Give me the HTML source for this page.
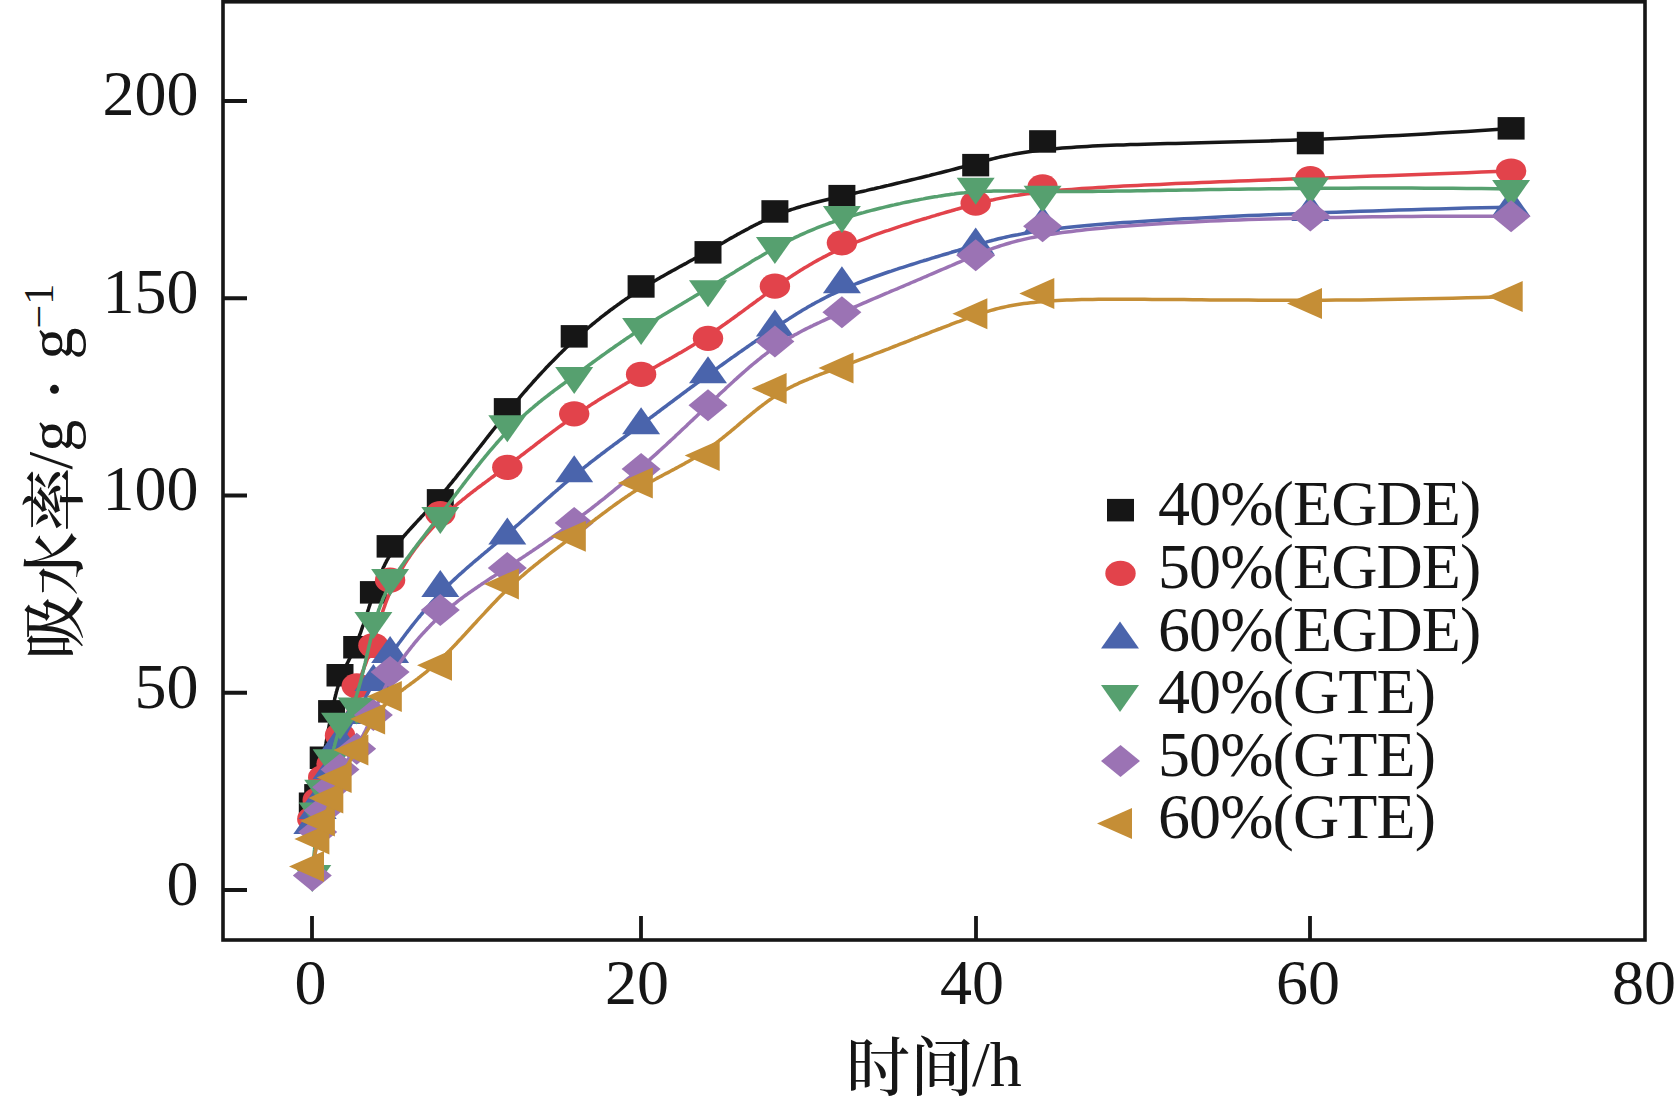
<!DOCTYPE html>
<html><head><meta charset="utf-8"><style>
html,body{margin:0;padding:0;background:#fff;}
svg{display:block;}
.t{font-family:"Liberation Serif","Noto Serif CJK SC",serif;font-size:64px;fill:#161616;}
.c{font-family:"Liberation Serif","Noto Serif CJK SC",serif;font-size:64px;fill:#161616;}
</style></head><body>
<svg width="1675" height="1106" viewBox="0 0 1675 1106">
<rect width="1675" height="1106" fill="#fff"/>
<g stroke="#161616" stroke-width="3.8" fill="none">
<rect x="223" y="1.8" width="1422" height="938.2" stroke-width="3.6"/>
<path d="M223,890H247M223,692.75H247M223,495.5H247M223,298.25H247M223,101H247"/>
<path d="M312,940V916M641,940V916M976,940V916M1310,940V916"/>
</g>
<g class="t" text-anchor="end">
<text x="198.5" y="904.5">0</text>
<text x="198.5" y="707.5">50</text>
<text x="198.5" y="509.8">100</text>
<text x="198.5" y="312.5">150</text>
<text x="198.5" y="115">200</text>
</g>
<g class="t" text-anchor="middle">
<text x="310.5" y="1003.5">0</text>
<text x="637" y="1003.5">20</text>
<text x="972" y="1003.5">40</text>
<text x="1308" y="1003.5">60</text>
<text x="1644" y="1003.5">80</text>
</g>
<text class="c"><tspan x="846" y="1090" font-weight="500">时间</tspan><tspan x="972" y="1086">/h</tspan></text>
<g transform="translate(71.5,653) rotate(-90)">
<text class="c"><tspan x="-6.5" y="5.5" font-weight="500">吸水率</tspan><tspan x="183.5" y="0">/g</tspan><tspan x="251" y="8" font-size="76">·</tspan><tspan x="293.6" y="0">g</tspan><tspan x="324.6" y="-19" font-size="42">−1</tspan></text>
</g>
<path d="M312.3,803.8 L312.7,803.2 L313.1,802.5 L313.5,801.7 L313.8,801.0 L314.2,800.2 L314.6,799.4 L314.9,798.5 L315.2,797.6 L315.6,796.7 L315.9,795.7 L316.2,794.8 L316.5,793.8 L316.8,792.7 L317.1,791.7 L317.4,790.6 L317.7,789.5 L318.0,788.4 L318.2,787.2 L318.5,786.1 L318.8,784.9 L319.0,783.7 L319.3,782.5 L319.5,781.3 L319.8,780.1 L320.0,778.8 L320.2,777.6 L320.5,776.3 L320.7,775.0 L320.9,773.7 L321.1,772.4 L321.3,771.1 L321.6,769.9 L321.8,768.6 L322.0,767.2 L322.2,765.9 L322.4,764.6 L322.6,763.3 L322.8,762.0 L323.0,760.8 L323.2,759.5 L323.5,758.2 L323.7,756.9 L323.9,755.6 L324.1,754.4 L324.3,753.1 L324.5,751.9 L324.7,750.6 L324.9,749.4 L325.1,748.2 L325.3,746.9 L325.5,745.7 L325.7,744.5 L326.0,743.3 L326.2,742.1 L326.4,740.9 L326.6,739.7 L326.8,738.5 L327.0,737.4 L327.2,736.2 L327.4,735.0 L327.6,733.9 L327.8,732.7 L328.0,731.6 L328.2,730.4 L328.5,729.3 L328.7,728.2 L328.9,727.1 L329.1,726.0 L329.3,724.8 L329.5,723.8 L329.7,722.7 L329.9,721.6 L330.1,720.5 L330.3,719.4 L330.5,718.4 L330.8,717.3 L331.0,716.2 L331.2,715.2 L331.4,714.2 L331.6,713.1 L331.8,712.1 L332.0,711.1 L332.2,710.1 L332.4,709.0 L332.6,708.0 L332.9,707.0 L333.1,706.1 L333.3,705.1 L333.5,704.1 L333.7,703.1 L333.9,702.2 L334.1,701.2 L334.4,700.2 L334.6,699.3 L334.8,698.4 L335.0,697.4 L335.3,696.5 L335.5,695.6 L335.7,694.6 L336.0,693.7 L336.2,692.8 L336.4,691.9 L336.7,691.0 L336.9,690.1 L337.2,689.3 L337.4,688.4 L337.7,687.5 L337.9,686.6 L338.2,685.8 L338.5,684.9 L338.7,684.1 L339.0,683.2 L339.3,682.4 L339.6,681.5 L339.8,680.7 L340.1,679.9 L340.4,679.1 L340.7,678.3 L341.0,677.5 L341.4,676.6 L341.7,675.9 L342.0,675.1 L342.3,674.3 L342.6,673.5 L343.0,672.7 L343.3,671.9 L343.7,671.1 L344.0,670.4 L344.4,669.6 L344.7,668.8 L345.1,668.0 L345.5,667.2 L345.8,666.5 L346.2,665.7 L346.6,664.9 L347.0,664.1 L347.3,663.3 L347.7,662.5 L348.1,661.7 L348.5,660.9 L348.9,660.1 L349.3,659.3 L349.7,658.5 L350.1,657.6 L350.5,656.8 L350.9,655.9 L351.3,655.1 L351.7,654.2 L352.1,653.3 L352.5,652.4 L352.9,651.5 L353.4,650.6 L353.8,649.7 L354.2,648.8 L354.6,647.8 L355.0,646.8 L355.4,645.9 L355.9,644.9 L356.3,643.8 L356.7,642.8 L357.1,641.8 L357.5,640.7 L357.9,639.6 L358.4,638.5 L358.8,637.4 L359.2,636.3 L359.6,635.2 L360.0,634.0 L360.5,632.9 L360.9,631.7 L361.3,630.5 L361.7,629.3 L362.1,628.1 L362.5,626.9 L363.0,625.7 L363.4,624.5 L363.8,623.2 L364.2,622.0 L364.6,620.7 L365.1,619.5 L365.5,618.2 L365.9,616.9 L366.3,615.7 L366.7,614.4 L367.1,613.1 L367.6,611.8 L368.0,610.5 L368.4,609.3 L368.8,608.0 L369.2,606.7 L369.7,605.4 L370.1,604.1 L370.5,602.8 L370.9,601.5 L371.3,600.2 L371.7,599.0 L372.2,597.7 L372.6,596.4 L373.0,595.1 L373.4,593.9 L373.8,592.6 L374.3,591.4 L374.7,590.1 L375.1,588.9 L375.5,587.6 L375.9,586.4 L376.4,585.2 L376.8,584.0 L377.2,582.7 L377.7,581.5 L378.1,580.3 L378.6,579.1 L379.0,577.9 L379.5,576.7 L380.0,575.5 L380.5,574.3 L381.0,573.1 L381.5,571.9 L382.0,570.8 L382.5,569.6 L383.0,568.4 L383.5,567.2 L384.1,566.1 L384.7,564.9 L385.2,563.7 L385.8,562.6 L386.4,561.4 L387.0,560.2 L387.7,559.1 L388.3,557.9 L389.0,556.8 L389.7,555.6 L390.4,554.4 L391.1,553.3 L391.8,552.1 L392.5,551.0 L393.3,549.8 L394.1,548.7 L394.9,547.5 L395.7,546.4 L396.6,545.2 L397.4,544.1 L398.3,542.9 L399.2,541.8 L400.2,540.6 L401.1,539.4 L402.1,538.3 L403.1,537.1 L404.1,535.9 L405.1,534.8 L406.1,533.6 L407.2,532.4 L408.3,531.2 L409.4,529.9 L410.5,528.7 L411.6,527.5 L412.8,526.2 L413.9,525.0 L415.1,523.7 L416.3,522.4 L417.5,521.1 L418.7,519.8 L420.0,518.5 L421.2,517.1 L422.5,515.8 L423.8,514.4 L425.1,513.0 L426.4,511.6 L427.7,510.1 L429.1,508.7 L430.4,507.2 L431.8,505.7 L433.2,504.2 L434.5,502.6 L435.9,501.0 L437.4,499.5 L438.8,497.8 L440.2,496.2 L441.7,494.5 L443.1,492.8 L444.6,491.1 L446.1,489.3 L447.6,487.6 L449.1,485.7 L450.6,483.9 L452.1,482.1 L453.6,480.2 L455.2,478.3 L456.7,476.4 L458.2,474.4 L459.8,472.5 L461.4,470.5 L462.9,468.5 L464.5,466.5 L466.1,464.5 L467.7,462.5 L469.3,460.4 L470.9,458.4 L472.5,456.3 L474.1,454.2 L475.8,452.2 L477.4,450.1 L479.0,448.0 L480.7,445.9 L482.3,443.8 L484.0,441.7 L485.6,439.5 L487.3,437.4 L488.9,435.3 L490.6,433.2 L492.2,431.1 L493.9,429.0 L495.6,426.9 L497.2,424.8 L498.9,422.7 L500.6,420.6 L502.2,418.5 L503.9,416.4 L505.6,414.4 L507.3,412.3 L508.9,410.3 L510.6,408.2 L512.3,406.2 L514.0,404.2 L515.6,402.2 L517.3,400.2 L519.0,398.3 L520.6,396.3 L522.3,394.3 L524.0,392.4 L525.7,390.5 L527.3,388.6 L529.0,386.7 L530.7,384.8 L532.4,382.9 L534.0,381.0 L535.7,379.2 L537.4,377.3 L539.0,375.5 L540.7,373.7 L542.4,371.9 L544.1,370.1 L545.7,368.3 L547.4,366.6 L549.1,364.8 L550.8,363.1 L552.4,361.4 L554.1,359.7 L555.8,358.0 L557.5,356.3 L559.1,354.6 L560.8,353.0 L562.5,351.3 L564.1,349.7 L565.8,348.1 L567.5,346.5 L569.2,344.9 L570.8,343.3 L572.5,341.8 L574.2,340.2 L575.9,338.7 L577.5,337.2 L579.2,335.7 L580.9,334.2 L582.5,332.7 L584.2,331.3 L585.9,329.8 L587.6,328.4 L589.2,327.0 L590.9,325.6 L592.6,324.2 L594.3,322.8 L595.9,321.5 L597.6,320.1 L599.3,318.8 L600.9,317.4 L602.6,316.1 L604.3,314.8 L606.0,313.5 L607.6,312.3 L609.3,311.0 L611.0,309.7 L612.7,308.5 L614.3,307.3 L616.0,306.1 L617.7,304.8 L619.4,303.7 L621.0,302.5 L622.7,301.3 L624.4,300.1 L626.0,299.0 L627.7,297.9 L629.4,296.7 L631.1,295.6 L632.7,294.5 L634.4,293.4 L636.1,292.3 L637.8,291.2 L639.4,290.2 L641.1,289.1 L642.8,288.1 L644.4,287.0 L646.1,286.0 L647.8,285.0 L649.5,284.0 L651.1,283.0 L652.8,282.0 L654.5,281.0 L656.2,280.0 L657.8,279.0 L659.5,278.1 L661.2,277.1 L662.8,276.2 L664.5,275.2 L666.2,274.3 L667.9,273.3 L669.5,272.4 L671.2,271.4 L672.9,270.5 L674.6,269.6 L676.2,268.7 L677.9,267.7 L679.6,266.8 L681.3,265.9 L682.9,265.0 L684.6,264.1 L686.3,263.2 L687.9,262.3 L689.6,261.3 L691.3,260.4 L693.0,259.5 L694.6,258.6 L696.3,257.7 L698.0,256.8 L699.7,255.8 L701.3,254.9 L703.0,254.0 L704.7,253.1 L706.3,252.1 L708.0,251.2 L709.7,250.3 L711.4,249.3 L713.0,248.4 L714.7,247.4 L716.4,246.5 L718.1,245.5 L719.7,244.6 L721.4,243.6 L723.1,242.7 L724.8,241.7 L726.4,240.7 L728.1,239.8 L729.8,238.8 L731.4,237.9 L733.1,237.0 L734.8,236.0 L736.5,235.1 L738.1,234.1 L739.8,233.2 L741.5,232.3 L743.2,231.4 L744.8,230.5 L746.5,229.6 L748.2,228.7 L749.8,227.8 L751.5,226.9 L753.2,226.0 L754.9,225.2 L756.5,224.3 L758.2,223.5 L759.9,222.6 L761.6,221.8 L763.2,221.0 L764.9,220.2 L766.6,219.4 L768.2,218.7 L769.9,217.9 L771.6,217.2 L773.3,216.5 L774.9,215.8 L776.6,215.1 L778.3,214.4 L780.0,213.7 L781.6,213.1 L783.3,212.4 L785.0,211.8 L786.7,211.2 L788.4,210.6 L790.1,210.0 L791.8,209.4 L793.6,208.9 L795.3,208.3 L797.1,207.7 L798.8,207.2 L800.6,206.7 L802.4,206.1 L804.2,205.6 L806.1,205.1 L807.9,204.6 L809.8,204.1 L811.7,203.5 L813.6,203.0 L815.5,202.5 L817.5,202.0 L819.5,201.5 L821.5,201.0 L823.5,200.5 L825.6,200.0 L827.7,199.5 L829.8,199.0 L832.0,198.5 L834.2,198.0 L836.4,197.4 L838.7,196.9 L841.0,196.4 L843.3,195.8 L845.7,195.3 L848.1,194.7 L850.5,194.2 L853.0,193.6 L855.5,193.0 L858.1,192.4 L860.7,191.8 L863.4,191.2 L866.0,190.6 L868.7,189.9 L871.5,189.3 L874.2,188.7 L877.0,188.0 L879.9,187.4 L882.7,186.7 L885.5,186.0 L888.4,185.4 L891.3,184.7 L894.2,184.0 L897.1,183.3 L900.0,182.6 L902.9,181.9 L905.9,181.2 L908.8,180.5 L911.7,179.8 L914.6,179.1 L917.6,178.4 L920.5,177.7 L923.4,177.0 L926.3,176.3 L929.2,175.6 L932.0,174.8 L934.9,174.1 L937.7,173.4 L940.5,172.7 L943.3,172.0 L946.1,171.3 L948.8,170.6 L951.5,169.9 L954.2,169.2 L956.8,168.5 L959.4,167.8 L962.0,167.1 L964.5,166.4 L967.0,165.7 L969.5,165.1 L971.9,164.4 L974.3,163.7 L976.7,163.1 L979.1,162.4 L981.4,161.8 L983.8,161.1 L986.2,160.5 L988.6,159.9 L991.0,159.2 L993.5,158.6 L995.9,158.0 L998.5,157.4 L1001.0,156.8 L1003.6,156.3 L1006.3,155.7 L1009.0,155.1 L1011.8,154.6 L1014.7,154.0 L1017.7,153.5 L1020.8,153.0 L1023.9,152.5 L1027.2,152.0 L1030.6,151.5 L1034.0,151.0 L1037.6,150.6 L1041.4,150.1 L1045.2,149.7 L1049.2,149.3 L1053.4,148.9 L1057.7,148.5 L1062.2,148.1 L1066.8,147.7 L1071.6,147.4 L1076.6,147.0 L1081.7,146.7 L1087.1,146.4 L1092.6,146.1 L1098.4,145.8 L1104.3,145.6 L1110.5,145.3 L1116.9,145.1 L1123.5,144.9 L1130.3,144.6 L1137.3,144.4 L1144.6,144.2 L1152.0,144.0 L1159.7,143.8 L1167.6,143.6 L1175.7,143.4 L1184.0,143.2 L1192.6,143.0 L1201.3,142.8 L1210.3,142.6 L1219.6,142.3 L1229.0,142.1 L1238.7,141.8 L1248.6,141.5 L1258.7,141.2 L1269.1,140.9 L1279.7,140.6 L1290.5,140.2 L1301.6,139.8 L1312.8,139.4 L1324.4,138.9 L1336.1,138.4 L1348.1,137.9 L1360.4,137.3 L1372.9,136.7 L1385.6,136.1 L1398.5,135.4 L1411.7,134.7 L1425.2,133.9 L1438.9,133.1 L1452.8,132.3 L1467.0,131.4 L1481.4,130.4 L1496.1,129.4 L1511.1,128.3" fill="none" stroke="#161616" stroke-width="3.5" stroke-linejoin="round"/>
<rect x="298.8" y="792.5" width="27" height="22.5" fill="#161616"/>
<rect x="304.2" y="784.1" width="27" height="22.5" fill="#161616"/>
<rect x="309.7" y="746.5" width="27" height="22.5" fill="#161616"/>
<rect x="318.1" y="700.1" width="27" height="22.5" fill="#161616"/>
<rect x="326.5" y="664.0" width="27" height="22.5" fill="#161616"/>
<rect x="343.2" y="636.0" width="27" height="22.5" fill="#161616"/>
<rect x="359.9" y="581.1" width="27" height="22.5" fill="#161616"/>
<rect x="376.6" y="535.1" width="27" height="22.5" fill="#161616"/>
<rect x="426.8" y="489.1" width="27" height="22.5" fill="#161616"/>
<rect x="493.8" y="398.1" width="27" height="22.5" fill="#161616"/>
<rect x="560.7" y="325.1" width="27" height="22.5" fill="#161616"/>
<rect x="627.6" y="275.2" width="27" height="22.5" fill="#161616"/>
<rect x="694.5" y="241.1" width="27" height="22.5" fill="#161616"/>
<rect x="761.4" y="200.2" width="27" height="22.5" fill="#161616"/>
<rect x="828.4" y="184.9" width="27" height="22.5" fill="#161616"/>
<rect x="962.2" y="153.9" width="27" height="22.5" fill="#161616"/>
<rect x="1029.1" y="130.2" width="27" height="22.5" fill="#161616"/>
<rect x="1296.8" y="131.8" width="27" height="22.5" fill="#161616"/>
<rect x="1497.6" y="117.1" width="27" height="22.5" fill="#161616"/>
<path d="M312.3,819.0 L312.7,817.6 L313.1,816.2 L313.5,814.9 L313.8,813.5 L314.2,812.2 L314.6,811.0 L314.9,809.7 L315.2,808.5 L315.6,807.3 L315.9,806.1 L316.2,805.0 L316.5,803.9 L316.8,802.8 L317.1,801.7 L317.4,800.7 L317.7,799.6 L318.0,798.6 L318.2,797.7 L318.5,796.7 L318.8,795.8 L319.0,794.9 L319.3,794.0 L319.5,793.1 L319.8,792.2 L320.0,791.4 L320.2,790.6 L320.5,789.8 L320.7,789.0 L320.9,788.2 L321.1,787.5 L321.3,786.8 L321.6,786.0 L321.8,785.3 L322.0,784.7 L322.2,784.0 L322.4,783.3 L322.6,782.7 L322.8,782.1 L323.0,781.5 L323.2,780.9 L323.5,780.3 L323.7,779.7 L323.9,779.2 L324.1,778.6 L324.3,778.1 L324.5,777.5 L324.7,777.0 L324.9,776.5 L325.1,776.0 L325.3,775.5 L325.5,775.0 L325.7,774.5 L326.0,774.1 L326.2,773.6 L326.4,773.1 L326.6,772.7 L326.8,772.2 L327.0,771.8 L327.2,771.3 L327.4,770.9 L327.6,770.4 L327.8,770.0 L328.0,769.5 L328.2,769.1 L328.5,768.6 L328.7,768.2 L328.9,767.7 L329.1,767.3 L329.3,766.8 L329.5,766.4 L329.7,765.9 L329.9,765.4 L330.1,765.0 L330.3,764.5 L330.5,764.0 L330.8,763.5 L331.0,763.0 L331.2,762.5 L331.4,762.0 L331.6,761.5 L331.8,761.0 L332.0,760.4 L332.2,759.9 L332.4,759.3 L332.6,758.8 L332.9,758.2 L333.1,757.6 L333.3,757.0 L333.5,756.4 L333.7,755.8 L333.9,755.1 L334.1,754.5 L334.4,753.8 L334.6,753.2 L334.8,752.5 L335.0,751.8 L335.3,751.1 L335.5,750.4 L335.7,749.7 L336.0,749.0 L336.2,748.3 L336.4,747.5 L336.7,746.7 L336.9,746.0 L337.2,745.2 L337.4,744.4 L337.7,743.6 L337.9,742.8 L338.2,741.9 L338.5,741.1 L338.7,740.2 L339.0,739.4 L339.3,738.5 L339.6,737.6 L339.8,736.7 L340.1,735.8 L340.4,734.8 L340.7,733.9 L341.0,732.9 L341.4,732.0 L341.7,731.0 L342.0,730.0 L342.3,729.0 L342.6,728.0 L343.0,726.9 L343.3,725.9 L343.7,724.8 L344.0,723.8 L344.4,722.7 L344.7,721.6 L345.1,720.5 L345.5,719.4 L345.8,718.3 L346.2,717.2 L346.6,716.1 L347.0,715.0 L347.3,713.8 L347.7,712.7 L348.1,711.5 L348.5,710.4 L348.9,709.3 L349.3,708.1 L349.7,706.9 L350.1,705.8 L350.5,704.6 L350.9,703.5 L351.3,702.3 L351.7,701.2 L352.1,700.0 L352.5,698.8 L352.9,697.7 L353.4,696.5 L353.8,695.4 L354.2,694.2 L354.6,693.1 L355.0,691.9 L355.4,690.8 L355.9,689.6 L356.3,688.5 L356.7,687.4 L357.1,686.2 L357.5,685.1 L357.9,684.0 L358.4,682.9 L358.8,681.8 L359.2,680.7 L359.6,679.6 L360.0,678.5 L360.5,677.4 L360.9,676.3 L361.3,675.2 L361.7,674.1 L362.1,673.0 L362.5,671.9 L363.0,670.8 L363.4,669.7 L363.8,668.6 L364.2,667.5 L364.6,666.4 L365.1,665.3 L365.5,664.2 L365.9,663.1 L366.3,661.9 L366.7,660.8 L367.1,659.7 L367.6,658.5 L368.0,657.4 L368.4,656.2 L368.8,655.0 L369.2,653.8 L369.7,652.6 L370.1,651.4 L370.5,650.2 L370.9,649.0 L371.3,647.7 L371.7,646.5 L372.2,645.2 L372.6,643.9 L373.0,642.6 L373.4,641.3 L373.8,640.0 L374.3,638.6 L374.7,637.3 L375.1,635.9 L375.5,634.5 L375.9,633.1 L376.4,631.7 L376.8,630.2 L377.2,628.8 L377.7,627.4 L378.1,625.9 L378.6,624.4 L379.0,622.9 L379.5,621.4 L380.0,619.9 L380.5,618.4 L381.0,616.9 L381.5,615.3 L382.0,613.8 L382.5,612.2 L383.0,610.6 L383.5,609.1 L384.1,607.5 L384.7,605.9 L385.2,604.3 L385.8,602.7 L386.4,601.1 L387.0,599.5 L387.7,597.9 L388.3,596.2 L389.0,594.6 L389.7,593.0 L390.4,591.4 L391.1,589.7 L391.8,588.1 L392.5,586.4 L393.3,584.8 L394.1,583.1 L394.9,581.5 L395.7,579.8 L396.6,578.2 L397.4,576.6 L398.3,574.9 L399.2,573.3 L400.2,571.6 L401.1,570.0 L402.1,568.3 L403.1,566.7 L404.1,565.0 L405.1,563.4 L406.1,561.8 L407.2,560.1 L408.3,558.5 L409.4,556.9 L410.5,555.2 L411.6,553.6 L412.8,552.0 L413.9,550.4 L415.1,548.8 L416.3,547.2 L417.5,545.6 L418.7,544.0 L420.0,542.4 L421.2,540.9 L422.5,539.3 L423.8,537.8 L425.1,536.2 L426.4,534.7 L427.7,533.1 L429.1,531.6 L430.4,530.1 L431.8,528.6 L433.2,527.1 L434.5,525.6 L435.9,524.1 L437.4,522.7 L438.8,521.2 L440.2,519.8 L441.7,518.4 L443.1,516.9 L444.6,515.5 L446.1,514.2 L447.6,512.8 L449.1,511.4 L450.6,510.1 L452.1,508.7 L453.6,507.4 L455.2,506.0 L456.7,504.7 L458.2,503.4 L459.8,502.1 L461.4,500.8 L462.9,499.5 L464.5,498.3 L466.1,497.0 L467.7,495.7 L469.3,494.5 L470.9,493.2 L472.5,492.0 L474.1,490.7 L475.8,489.5 L477.4,488.2 L479.0,487.0 L480.7,485.8 L482.3,484.5 L484.0,483.3 L485.6,482.1 L487.3,480.9 L488.9,479.6 L490.6,478.4 L492.2,477.2 L493.9,476.0 L495.6,474.7 L497.2,473.5 L498.9,472.3 L500.6,471.1 L502.2,469.8 L503.9,468.6 L505.6,467.3 L507.3,466.1 L508.9,464.9 L510.6,463.6 L512.3,462.3 L514.0,461.1 L515.6,459.8 L517.3,458.5 L519.0,457.3 L520.6,456.0 L522.3,454.7 L524.0,453.5 L525.7,452.2 L527.3,450.9 L529.0,449.6 L530.7,448.3 L532.4,447.1 L534.0,445.8 L535.7,444.5 L537.4,443.2 L539.0,442.0 L540.7,440.7 L542.4,439.4 L544.1,438.2 L545.7,436.9 L547.4,435.6 L549.1,434.4 L550.8,433.1 L552.4,431.9 L554.1,430.6 L555.8,429.4 L557.5,428.1 L559.1,426.9 L560.8,425.7 L562.5,424.5 L564.1,423.3 L565.8,422.0 L567.5,420.8 L569.2,419.7 L570.8,418.5 L572.5,417.3 L574.2,416.1 L575.9,415.0 L577.5,413.8 L579.2,412.7 L580.9,411.6 L582.5,410.4 L584.2,409.3 L585.9,408.2 L587.6,407.1 L589.2,406.0 L590.9,404.9 L592.6,403.8 L594.3,402.8 L595.9,401.7 L597.6,400.6 L599.3,399.6 L600.9,398.5 L602.6,397.5 L604.3,396.5 L606.0,395.4 L607.6,394.4 L609.3,393.4 L611.0,392.4 L612.7,391.4 L614.3,390.4 L616.0,389.4 L617.7,388.4 L619.4,387.4 L621.0,386.4 L622.7,385.4 L624.4,384.5 L626.0,383.5 L627.7,382.5 L629.4,381.6 L631.1,380.6 L632.7,379.6 L634.4,378.7 L636.1,377.7 L637.8,376.8 L639.4,375.8 L641.1,374.9 L642.8,373.9 L644.4,373.0 L646.1,372.1 L647.8,371.1 L649.5,370.2 L651.1,369.2 L652.8,368.3 L654.5,367.4 L656.2,366.4 L657.8,365.5 L659.5,364.6 L661.2,363.6 L662.8,362.7 L664.5,361.7 L666.2,360.8 L667.9,359.9 L669.5,358.9 L671.2,358.0 L672.9,357.0 L674.6,356.0 L676.2,355.1 L677.9,354.1 L679.6,353.1 L681.3,352.2 L682.9,351.2 L684.6,350.2 L686.3,349.2 L687.9,348.2 L689.6,347.2 L691.3,346.2 L693.0,345.2 L694.6,344.1 L696.3,343.1 L698.0,342.1 L699.7,341.0 L701.3,339.9 L703.0,338.9 L704.7,337.8 L706.3,336.7 L708.0,335.6 L709.7,334.5 L711.4,333.4 L713.0,332.3 L714.7,331.1 L716.4,330.0 L718.1,328.8 L719.7,327.7 L721.4,326.5 L723.1,325.3 L724.8,324.2 L726.4,323.0 L728.1,321.8 L729.8,320.6 L731.4,319.4 L733.1,318.2 L734.8,317.0 L736.5,315.8 L738.1,314.5 L739.8,313.3 L741.5,312.1 L743.2,310.9 L744.8,309.6 L746.5,308.4 L748.2,307.2 L749.8,305.9 L751.5,304.7 L753.2,303.5 L754.9,302.3 L756.5,301.0 L758.2,299.8 L759.9,298.6 L761.6,297.3 L763.2,296.1 L764.9,294.9 L766.6,293.7 L768.2,292.5 L769.9,291.3 L771.6,290.0 L773.3,288.8 L774.9,287.6 L776.6,286.5 L778.3,285.3 L780.0,284.1 L781.6,282.9 L783.3,281.7 L785.0,280.6 L786.7,279.4 L788.4,278.3 L790.1,277.1 L791.8,276.0 L793.6,274.8 L795.3,273.7 L797.1,272.6 L798.8,271.4 L800.6,270.3 L802.4,269.2 L804.2,268.1 L806.1,267.0 L807.9,265.9 L809.8,264.8 L811.7,263.7 L813.6,262.6 L815.5,261.5 L817.5,260.4 L819.5,259.3 L821.5,258.2 L823.5,257.1 L825.6,256.1 L827.7,255.0 L829.8,253.9 L832.0,252.9 L834.2,251.8 L836.4,250.8 L838.7,249.7 L841.0,248.7 L843.3,247.6 L845.7,246.6 L848.1,245.5 L850.5,244.5 L853.0,243.4 L855.5,242.4 L858.1,241.4 L860.7,240.3 L863.4,239.3 L866.0,238.3 L868.7,237.3 L871.5,236.2 L874.2,235.2 L877.0,234.2 L879.9,233.2 L882.7,232.2 L885.5,231.2 L888.4,230.3 L891.3,229.3 L894.2,228.3 L897.1,227.3 L900.0,226.4 L902.9,225.4 L905.9,224.5 L908.8,223.6 L911.7,222.6 L914.6,221.7 L917.6,220.8 L920.5,219.9 L923.4,219.0 L926.3,218.2 L929.2,217.3 L932.0,216.4 L934.9,215.6 L937.7,214.7 L940.5,213.9 L943.3,213.1 L946.1,212.3 L948.8,211.5 L951.5,210.8 L954.2,210.0 L956.8,209.2 L959.4,208.5 L962.0,207.8 L964.5,207.1 L967.0,206.4 L969.5,205.7 L971.9,205.1 L974.3,204.4 L976.7,203.8 L979.1,203.1 L981.4,202.5 L983.8,201.9 L986.2,201.3 L988.6,200.8 L991.0,200.2 L993.5,199.7 L995.9,199.1 L998.5,198.6 L1001.0,198.1 L1003.6,197.6 L1006.3,197.1 L1009.0,196.6 L1011.8,196.1 L1014.7,195.6 L1017.7,195.2 L1020.8,194.7 L1023.9,194.2 L1027.2,193.8 L1030.6,193.4 L1034.0,192.9 L1037.6,192.5 L1041.4,192.1 L1045.2,191.7 L1049.2,191.3 L1053.4,190.9 L1057.7,190.5 L1062.2,190.1 L1066.8,189.8 L1071.6,189.4 L1076.6,189.0 L1081.7,188.6 L1087.1,188.3 L1092.6,187.9 L1098.4,187.5 L1104.3,187.2 L1110.5,186.8 L1116.9,186.5 L1123.5,186.1 L1130.3,185.8 L1137.3,185.4 L1144.6,185.1 L1152.0,184.7 L1159.7,184.4 L1167.6,184.0 L1175.7,183.6 L1184.0,183.3 L1192.6,182.9 L1201.3,182.6 L1210.3,182.2 L1219.6,181.8 L1229.0,181.5 L1238.7,181.1 L1248.6,180.7 L1258.7,180.3 L1269.1,179.9 L1279.7,179.5 L1290.5,179.1 L1301.6,178.7 L1312.8,178.3 L1324.4,177.9 L1336.1,177.5 L1348.1,177.0 L1360.4,176.6 L1372.9,176.1 L1385.6,175.7 L1398.5,175.2 L1411.7,174.7 L1425.2,174.2 L1438.9,173.7 L1452.8,173.2 L1467.0,172.7 L1481.4,172.1 L1496.1,171.6 L1511.1,171.0" fill="none" stroke="#E2434B" stroke-width="3.5" stroke-linejoin="round"/>
<ellipse cx="312.3" cy="819.0" rx="15.2" ry="12.6" fill="#E2434B"/>
<ellipse cx="317.7" cy="800.0" rx="15.2" ry="12.6" fill="#E2434B"/>
<ellipse cx="323.2" cy="777.5" rx="15.2" ry="12.6" fill="#E2434B"/>
<ellipse cx="331.6" cy="764.0" rx="15.2" ry="12.6" fill="#E2434B"/>
<ellipse cx="340.0" cy="735.5" rx="15.2" ry="12.6" fill="#E2434B"/>
<ellipse cx="356.7" cy="685.8" rx="15.2" ry="12.6" fill="#E2434B"/>
<ellipse cx="373.4" cy="645.5" rx="15.2" ry="12.6" fill="#E2434B"/>
<ellipse cx="390.1" cy="580.0" rx="15.2" ry="12.6" fill="#E2434B"/>
<ellipse cx="440.3" cy="513.6" rx="15.2" ry="12.6" fill="#E2434B"/>
<ellipse cx="507.3" cy="467.3" rx="15.2" ry="12.6" fill="#E2434B"/>
<ellipse cx="574.2" cy="413.8" rx="15.2" ry="12.6" fill="#E2434B"/>
<ellipse cx="641.1" cy="374.3" rx="15.2" ry="12.6" fill="#E2434B"/>
<ellipse cx="708.0" cy="338.3" rx="15.2" ry="12.6" fill="#E2434B"/>
<ellipse cx="774.9" cy="286.2" rx="15.2" ry="12.6" fill="#E2434B"/>
<ellipse cx="841.9" cy="242.8" rx="15.2" ry="12.6" fill="#E2434B"/>
<ellipse cx="975.7" cy="203.2" rx="15.2" ry="12.6" fill="#E2434B"/>
<ellipse cx="1042.6" cy="186.9" rx="15.2" ry="12.6" fill="#E2434B"/>
<ellipse cx="1310.3" cy="178.6" rx="15.2" ry="12.6" fill="#E2434B"/>
<ellipse cx="1511.1" cy="171.0" rx="15.2" ry="12.6" fill="#E2434B"/>
<path d="M312.3,825.0 L312.7,823.9 L313.1,822.8 L313.5,821.7 L313.8,820.7 L314.2,819.7 L314.6,818.7 L314.9,817.8 L315.2,816.8 L315.6,815.9 L315.9,815.0 L316.2,814.2 L316.5,813.3 L316.8,812.5 L317.1,811.7 L317.4,810.9 L317.7,810.1 L318.0,809.3 L318.2,808.6 L318.5,807.9 L318.8,807.1 L319.0,806.4 L319.3,805.7 L319.5,805.1 L319.8,804.4 L320.0,803.7 L320.2,803.1 L320.5,802.4 L320.7,801.8 L320.9,801.2 L321.1,800.6 L321.3,800.0 L321.6,799.3 L321.8,798.7 L322.0,798.1 L322.2,797.5 L322.4,797.0 L322.6,796.4 L322.8,795.8 L323.0,795.2 L323.2,794.6 L323.5,794.0 L323.7,793.4 L323.9,792.8 L324.1,792.2 L324.3,791.6 L324.5,791.0 L324.7,790.4 L324.9,789.8 L325.1,789.2 L325.3,788.6 L325.5,788.0 L325.7,787.3 L326.0,786.7 L326.2,786.1 L326.4,785.5 L326.6,784.9 L326.8,784.3 L327.0,783.6 L327.2,783.0 L327.4,782.4 L327.6,781.8 L327.8,781.1 L328.0,780.5 L328.2,779.9 L328.5,779.2 L328.7,778.6 L328.9,778.0 L329.1,777.3 L329.3,776.7 L329.5,776.0 L329.7,775.4 L329.9,774.7 L330.1,774.1 L330.3,773.4 L330.5,772.8 L330.8,772.1 L331.0,771.5 L331.2,770.8 L331.4,770.2 L331.6,769.5 L331.8,768.8 L332.0,768.2 L332.2,767.5 L332.4,766.8 L332.6,766.2 L332.9,765.5 L333.1,764.8 L333.3,764.1 L333.5,763.5 L333.7,762.8 L333.9,762.1 L334.1,761.4 L334.4,760.8 L334.6,760.1 L334.8,759.4 L335.0,758.7 L335.3,758.0 L335.5,757.3 L335.7,756.6 L336.0,756.0 L336.2,755.3 L336.4,754.6 L336.7,753.9 L336.9,753.2 L337.2,752.5 L337.4,751.8 L337.7,751.1 L337.9,750.4 L338.2,749.8 L338.5,749.1 L338.7,748.4 L339.0,747.7 L339.3,747.0 L339.6,746.3 L339.8,745.6 L340.1,744.9 L340.4,744.2 L340.7,743.5 L341.0,742.9 L341.4,742.2 L341.7,741.5 L342.0,740.8 L342.3,740.1 L342.6,739.4 L343.0,738.7 L343.3,738.0 L343.7,737.4 L344.0,736.7 L344.4,736.0 L344.7,735.3 L345.1,734.6 L345.5,733.9 L345.8,733.2 L346.2,732.6 L346.6,731.9 L347.0,731.2 L347.3,730.5 L347.7,729.8 L348.1,729.1 L348.5,728.4 L348.9,727.7 L349.3,727.0 L349.7,726.3 L350.1,725.6 L350.5,724.9 L350.9,724.2 L351.3,723.5 L351.7,722.8 L352.1,722.0 L352.5,721.3 L352.9,720.6 L353.4,719.9 L353.8,719.2 L354.2,718.4 L354.6,717.7 L355.0,717.0 L355.4,716.2 L355.9,715.5 L356.3,714.7 L356.7,714.0 L357.1,713.2 L357.5,712.5 L357.9,711.7 L358.4,711.0 L358.8,710.2 L359.2,709.4 L359.6,708.7 L360.0,707.9 L360.5,707.1 L360.9,706.3 L361.3,705.6 L361.7,704.8 L362.1,704.0 L362.5,703.2 L363.0,702.4 L363.4,701.6 L363.8,700.8 L364.2,700.1 L364.6,699.3 L365.1,698.5 L365.5,697.7 L365.9,696.9 L366.3,696.1 L366.7,695.3 L367.1,694.5 L367.6,693.7 L368.0,692.9 L368.4,692.2 L368.8,691.4 L369.2,690.6 L369.7,689.8 L370.1,689.0 L370.5,688.2 L370.9,687.5 L371.3,686.7 L371.7,685.9 L372.2,685.1 L372.6,684.4 L373.0,683.6 L373.4,682.8 L373.8,682.1 L374.3,681.3 L374.7,680.6 L375.1,679.8 L375.5,679.0 L375.9,678.3 L376.4,677.5 L376.8,676.8 L377.2,676.0 L377.7,675.3 L378.1,674.5 L378.6,673.7 L379.0,672.9 L379.5,672.2 L380.0,671.4 L380.5,670.6 L381.0,669.8 L381.5,669.0 L382.0,668.1 L382.5,667.3 L383.0,666.5 L383.5,665.6 L384.1,664.8 L384.7,663.9 L385.2,663.0 L385.8,662.1 L386.4,661.2 L387.0,660.3 L387.7,659.3 L388.3,658.3 L389.0,657.4 L389.7,656.4 L390.4,655.3 L391.1,654.3 L391.8,653.3 L392.5,652.2 L393.3,651.1 L394.1,650.0 L394.9,648.8 L395.7,647.7 L396.6,646.5 L397.4,645.3 L398.3,644.0 L399.2,642.8 L400.2,641.5 L401.1,640.2 L402.1,638.9 L403.1,637.6 L404.1,636.2 L405.1,634.9 L406.1,633.5 L407.2,632.1 L408.3,630.7 L409.4,629.3 L410.5,627.8 L411.6,626.4 L412.8,624.9 L413.9,623.5 L415.1,622.0 L416.3,620.5 L417.5,619.0 L418.7,617.5 L420.0,616.0 L421.2,614.5 L422.5,613.0 L423.8,611.4 L425.1,609.9 L426.4,608.4 L427.7,606.9 L429.1,605.4 L430.4,603.8 L431.8,602.3 L433.2,600.8 L434.5,599.3 L435.9,597.7 L437.4,596.2 L438.8,594.7 L440.2,593.2 L441.7,591.7 L443.1,590.2 L444.6,588.8 L446.1,587.3 L447.6,585.8 L449.1,584.4 L450.6,582.9 L452.1,581.5 L453.6,580.1 L455.2,578.6 L456.7,577.2 L458.2,575.8 L459.8,574.4 L461.4,573.0 L462.9,571.6 L464.5,570.2 L466.1,568.8 L467.7,567.4 L469.3,566.0 L470.9,564.6 L472.5,563.2 L474.1,561.8 L475.8,560.4 L477.4,559.1 L479.0,557.7 L480.7,556.3 L482.3,554.9 L484.0,553.5 L485.6,552.1 L487.3,550.8 L488.9,549.4 L490.6,548.0 L492.2,546.6 L493.9,545.2 L495.6,543.8 L497.2,542.4 L498.9,541.0 L500.6,539.6 L502.2,538.1 L503.9,536.7 L505.6,535.3 L507.3,533.9 L508.9,532.4 L510.6,531.0 L512.3,529.5 L514.0,528.1 L515.6,526.6 L517.3,525.2 L519.0,523.7 L520.6,522.2 L522.3,520.7 L524.0,519.3 L525.7,517.8 L527.3,516.3 L529.0,514.8 L530.7,513.3 L532.4,511.9 L534.0,510.4 L535.7,508.9 L537.4,507.4 L539.0,505.9 L540.7,504.4 L542.4,503.0 L544.1,501.5 L545.7,500.0 L547.4,498.5 L549.1,497.1 L550.8,495.6 L552.4,494.1 L554.1,492.7 L555.8,491.2 L557.5,489.8 L559.1,488.3 L560.8,486.9 L562.5,485.4 L564.1,484.0 L565.8,482.6 L567.5,481.2 L569.2,479.8 L570.8,478.4 L572.5,477.0 L574.2,475.6 L575.9,474.2 L577.5,472.8 L579.2,471.5 L580.9,470.1 L582.5,468.8 L584.2,467.5 L585.9,466.1 L587.6,464.8 L589.2,463.5 L590.9,462.2 L592.6,460.9 L594.3,459.6 L595.9,458.3 L597.6,457.0 L599.3,455.8 L600.9,454.5 L602.6,453.2 L604.3,452.0 L606.0,450.7 L607.6,449.4 L609.3,448.2 L611.0,446.9 L612.7,445.7 L614.3,444.4 L616.0,443.2 L617.7,442.0 L619.4,440.7 L621.0,439.5 L622.7,438.3 L624.4,437.0 L626.0,435.8 L627.7,434.6 L629.4,433.3 L631.1,432.1 L632.7,430.9 L634.4,429.6 L636.1,428.4 L637.8,427.2 L639.4,425.9 L641.1,424.7 L642.8,423.5 L644.4,422.2 L646.1,421.0 L647.8,419.7 L649.5,418.5 L651.1,417.2 L652.8,416.0 L654.5,414.7 L656.2,413.5 L657.8,412.2 L659.5,411.0 L661.2,409.7 L662.8,408.5 L664.5,407.2 L666.2,406.0 L667.9,404.7 L669.5,403.5 L671.2,402.2 L672.9,401.0 L674.6,399.7 L676.2,398.5 L677.9,397.2 L679.6,396.0 L681.3,394.7 L682.9,393.5 L684.6,392.2 L686.3,391.0 L687.9,389.7 L689.6,388.5 L691.3,387.2 L693.0,386.0 L694.6,384.8 L696.3,383.5 L698.0,382.3 L699.7,381.0 L701.3,379.8 L703.0,378.6 L704.7,377.4 L706.3,376.1 L708.0,374.9 L709.7,373.7 L711.4,372.5 L713.0,371.2 L714.7,370.0 L716.4,368.8 L718.1,367.6 L719.7,366.4 L721.4,365.2 L723.1,364.0 L724.8,362.8 L726.4,361.6 L728.1,360.4 L729.8,359.2 L731.4,358.0 L733.1,356.9 L734.8,355.7 L736.5,354.5 L738.1,353.3 L739.8,352.1 L741.5,351.0 L743.2,349.8 L744.8,348.6 L746.5,347.5 L748.2,346.3 L749.8,345.1 L751.5,344.0 L753.2,342.8 L754.9,341.7 L756.5,340.5 L758.2,339.4 L759.9,338.2 L761.6,337.1 L763.2,335.9 L764.9,334.8 L766.6,333.7 L768.2,332.5 L769.9,331.4 L771.6,330.3 L773.3,329.1 L774.9,328.0 L776.6,326.9 L778.3,325.8 L780.0,324.7 L781.6,323.5 L783.3,322.4 L785.0,321.3 L786.7,320.2 L788.4,319.1 L790.1,318.0 L791.8,316.9 L793.6,315.8 L795.3,314.7 L797.1,313.6 L798.8,312.5 L800.6,311.4 L802.4,310.3 L804.2,309.3 L806.1,308.2 L807.9,307.1 L809.8,306.0 L811.7,304.9 L813.6,303.9 L815.5,302.8 L817.5,301.7 L819.5,300.7 L821.5,299.6 L823.5,298.6 L825.6,297.5 L827.7,296.4 L829.8,295.4 L832.0,294.3 L834.2,293.3 L836.4,292.3 L838.7,291.2 L841.0,290.2 L843.3,289.1 L845.7,288.1 L848.1,287.1 L850.5,286.1 L853.0,285.0 L855.5,284.0 L858.1,283.0 L860.7,282.0 L863.4,281.0 L866.0,280.0 L868.7,279.0 L871.5,278.0 L874.2,277.0 L877.0,276.0 L879.9,275.0 L882.7,274.0 L885.5,273.0 L888.4,272.0 L891.3,271.1 L894.2,270.1 L897.1,269.2 L900.0,268.2 L902.9,267.3 L905.9,266.3 L908.8,265.4 L911.7,264.5 L914.6,263.6 L917.6,262.6 L920.5,261.7 L923.4,260.8 L926.3,260.0 L929.2,259.1 L932.0,258.2 L934.9,257.3 L937.7,256.5 L940.5,255.6 L943.3,254.8 L946.1,254.0 L948.8,253.2 L951.5,252.3 L954.2,251.5 L956.8,250.8 L959.4,250.0 L962.0,249.2 L964.5,248.4 L967.0,247.7 L969.5,247.0 L971.9,246.2 L974.3,245.5 L976.7,244.8 L979.1,244.1 L981.4,243.4 L983.8,242.7 L986.2,242.1 L988.6,241.4 L991.0,240.8 L993.5,240.1 L995.9,239.5 L998.5,238.8 L1001.0,238.2 L1003.6,237.6 L1006.3,237.0 L1009.0,236.4 L1011.8,235.8 L1014.7,235.2 L1017.7,234.7 L1020.8,234.1 L1023.9,233.5 L1027.2,233.0 L1030.6,232.4 L1034.0,231.8 L1037.6,231.3 L1041.4,230.8 L1045.2,230.2 L1049.2,229.7 L1053.4,229.2 L1057.7,228.6 L1062.2,228.1 L1066.8,227.6 L1071.6,227.1 L1076.6,226.6 L1081.7,226.1 L1087.1,225.6 L1092.6,225.1 L1098.4,224.6 L1104.3,224.1 L1110.5,223.6 L1116.9,223.1 L1123.5,222.6 L1130.3,222.2 L1137.3,221.7 L1144.6,221.2 L1152.0,220.7 L1159.7,220.2 L1167.6,219.8 L1175.7,219.3 L1184.0,218.8 L1192.6,218.4 L1201.3,217.9 L1210.3,217.4 L1219.6,217.0 L1229.0,216.5 L1238.7,216.1 L1248.6,215.6 L1258.7,215.2 L1269.1,214.8 L1279.7,214.3 L1290.5,213.9 L1301.6,213.5 L1312.8,213.0 L1324.4,212.6 L1336.1,212.2 L1348.1,211.8 L1360.4,211.3 L1372.9,210.9 L1385.6,210.5 L1398.5,210.1 L1411.7,209.7 L1425.2,209.3 L1438.9,208.9 L1452.8,208.5 L1467.0,208.1 L1481.4,207.8 L1496.1,207.4 L1511.1,207.0" fill="none" stroke="#4A64AC" stroke-width="3.5" stroke-linejoin="round"/>
<polygon points="312.3,807.0 331.3,834.0 293.3,834.0" fill="#4A64AC"/>
<polygon points="317.7,792.0 336.7,819.0 298.7,819.0" fill="#4A64AC"/>
<polygon points="323.2,777.0 342.2,804.0 304.2,804.0" fill="#4A64AC"/>
<polygon points="331.6,752.0 350.6,779.0 312.6,779.0" fill="#4A64AC"/>
<polygon points="340.0,724.0 359.0,751.0 321.0,751.0" fill="#4A64AC"/>
<polygon points="356.7,697.0 375.7,724.0 337.7,724.0" fill="#4A64AC"/>
<polygon points="373.4,664.0 392.4,691.0 354.4,691.0" fill="#4A64AC"/>
<polygon points="390.1,636.0 409.1,663.0 371.1,663.0" fill="#4A64AC"/>
<polygon points="440.3,570.0 459.3,597.0 421.3,597.0" fill="#4A64AC"/>
<polygon points="507.3,517.5 526.3,544.5 488.3,544.5" fill="#4A64AC"/>
<polygon points="574.2,455.2 593.2,482.2 555.2,482.2" fill="#4A64AC"/>
<polygon points="641.1,407.2 660.1,434.2 622.1,434.2" fill="#4A64AC"/>
<polygon points="708.0,356.2 727.0,383.2 689.0,383.2" fill="#4A64AC"/>
<polygon points="774.9,309.4 793.9,336.4 755.9,336.4" fill="#4A64AC"/>
<polygon points="841.9,266.3 860.9,293.3 822.9,293.3" fill="#4A64AC"/>
<polygon points="975.7,227.6 994.7,254.6 956.7,254.6" fill="#4A64AC"/>
<polygon points="1042.6,206.0 1061.6,233.0 1023.6,233.0" fill="#4A64AC"/>
<polygon points="1310.3,194.0 1329.3,221.0 1291.3,221.0" fill="#4A64AC"/>
<polygon points="1511.1,189.0 1530.1,216.0 1492.1,216.0" fill="#4A64AC"/>
<path d="M312.3,874.0 L312.7,869.4 L313.1,865.0 L313.5,860.8 L313.8,856.7 L314.2,852.9 L314.6,849.2 L314.9,845.6 L315.2,842.2 L315.6,839.0 L315.9,835.9 L316.2,833.0 L316.5,830.2 L316.8,827.5 L317.1,825.0 L317.4,822.6 L317.7,820.3 L318.0,818.1 L318.2,816.1 L318.5,814.1 L318.8,812.3 L319.0,810.5 L319.3,808.9 L319.5,807.3 L319.8,805.8 L320.0,804.4 L320.2,803.0 L320.5,801.8 L320.7,800.6 L320.9,799.4 L321.1,798.3 L321.3,797.3 L321.6,796.3 L321.8,795.3 L322.0,794.4 L322.2,793.5 L322.4,792.6 L322.6,791.8 L322.8,791.0 L323.0,790.1 L323.2,789.3 L323.5,788.5 L323.7,787.7 L323.9,786.9 L324.1,786.1 L324.3,785.3 L324.5,784.5 L324.7,783.7 L324.9,782.9 L325.1,782.1 L325.3,781.4 L325.5,780.6 L325.7,779.8 L326.0,779.0 L326.2,778.2 L326.4,777.4 L326.6,776.6 L326.8,775.8 L327.0,775.0 L327.2,774.2 L327.4,773.5 L327.6,772.7 L327.8,771.9 L328.0,771.1 L328.2,770.3 L328.5,769.5 L328.7,768.7 L328.9,767.9 L329.1,767.1 L329.3,766.3 L329.5,765.5 L329.7,764.7 L329.9,763.9 L330.1,763.0 L330.3,762.2 L330.5,761.4 L330.8,760.6 L331.0,759.8 L331.2,758.9 L331.4,758.1 L331.6,757.3 L331.8,756.4 L332.0,755.6 L332.2,754.7 L332.4,753.9 L332.6,753.0 L332.9,752.2 L333.1,751.3 L333.3,750.5 L333.5,749.6 L333.7,748.8 L333.9,747.9 L334.1,747.1 L334.4,746.2 L334.6,745.4 L334.8,744.5 L335.0,743.7 L335.3,742.8 L335.5,742.0 L335.7,741.1 L336.0,740.3 L336.2,739.5 L336.4,738.7 L336.7,737.9 L336.9,737.0 L337.2,736.2 L337.4,735.4 L337.7,734.7 L337.9,733.9 L338.2,733.1 L338.5,732.3 L338.7,731.6 L339.0,730.8 L339.3,730.1 L339.6,729.4 L339.8,728.7 L340.1,728.0 L340.4,727.3 L340.7,726.6 L341.0,725.9 L341.4,725.3 L341.7,724.6 L342.0,724.0 L342.3,723.4 L342.6,722.8 L343.0,722.2 L343.3,721.6 L343.7,721.0 L344.0,720.4 L344.4,719.8 L344.7,719.2 L345.1,718.6 L345.5,718.0 L345.8,717.5 L346.2,716.9 L346.6,716.3 L347.0,715.6 L347.3,715.0 L347.7,714.4 L348.1,713.7 L348.5,713.1 L348.9,712.4 L349.3,711.7 L349.7,711.0 L350.1,710.3 L350.5,709.5 L350.9,708.8 L351.3,708.0 L351.7,707.1 L352.1,706.3 L352.5,705.4 L352.9,704.5 L353.4,703.6 L353.8,702.6 L354.2,701.6 L354.6,700.6 L355.0,699.5 L355.4,698.4 L355.9,697.2 L356.3,696.0 L356.7,694.8 L357.1,693.5 L357.5,692.2 L357.9,690.8 L358.4,689.4 L358.8,688.0 L359.2,686.5 L359.6,685.0 L360.0,683.5 L360.5,681.9 L360.9,680.3 L361.3,678.7 L361.7,677.0 L362.1,675.4 L362.5,673.7 L363.0,672.0 L363.4,670.2 L363.8,668.5 L364.2,666.7 L364.6,665.0 L365.1,663.2 L365.5,661.4 L365.9,659.6 L366.3,657.8 L366.7,656.0 L367.1,654.2 L367.6,652.4 L368.0,650.6 L368.4,648.8 L368.8,647.0 L369.2,645.2 L369.7,643.4 L370.1,641.6 L370.5,639.9 L370.9,638.1 L371.3,636.4 L371.7,634.7 L372.2,633.0 L372.6,631.3 L373.0,629.7 L373.4,628.1 L373.8,626.5 L374.3,624.9 L374.7,623.4 L375.1,621.9 L375.5,620.4 L375.9,618.9 L376.4,617.4 L376.8,616.0 L377.2,614.6 L377.7,613.2 L378.1,611.8 L378.6,610.4 L379.0,609.1 L379.5,607.8 L380.0,606.4 L380.5,605.1 L381.0,603.8 L381.5,602.5 L382.0,601.3 L382.5,600.0 L383.0,598.7 L383.5,597.5 L384.1,596.2 L384.7,595.0 L385.2,593.7 L385.8,592.5 L386.4,591.2 L387.0,590.0 L387.7,588.8 L388.3,587.5 L389.0,586.3 L389.7,585.0 L390.4,583.8 L391.1,582.5 L391.8,581.3 L392.5,580.0 L393.3,578.7 L394.1,577.4 L394.9,576.1 L395.7,574.8 L396.6,573.5 L397.4,572.2 L398.3,570.8 L399.2,569.5 L400.2,568.1 L401.1,566.7 L402.1,565.3 L403.1,563.9 L404.1,562.5 L405.1,561.1 L406.1,559.6 L407.2,558.2 L408.3,556.7 L409.4,555.2 L410.5,553.7 L411.6,552.2 L412.8,550.7 L413.9,549.1 L415.1,547.6 L416.3,546.0 L417.5,544.4 L418.7,542.8 L420.0,541.2 L421.2,539.5 L422.5,537.9 L423.8,536.2 L425.1,534.5 L426.4,532.8 L427.7,531.1 L429.1,529.4 L430.4,527.6 L431.8,525.8 L433.2,524.1 L434.5,522.2 L435.9,520.4 L437.4,518.6 L438.8,516.7 L440.2,514.9 L441.7,513.0 L443.1,511.0 L444.6,509.1 L446.1,507.2 L447.6,505.2 L449.1,503.2 L450.6,501.2 L452.1,499.2 L453.6,497.2 L455.2,495.2 L456.7,493.1 L458.2,491.1 L459.8,489.0 L461.4,487.0 L462.9,484.9 L464.5,482.9 L466.1,480.8 L467.7,478.7 L469.3,476.6 L470.9,474.6 L472.5,472.5 L474.1,470.4 L475.8,468.4 L477.4,466.3 L479.0,464.3 L480.7,462.2 L482.3,460.2 L484.0,458.2 L485.6,456.2 L487.3,454.2 L488.9,452.2 L490.6,450.2 L492.2,448.3 L493.9,446.3 L495.6,444.4 L497.2,442.5 L498.9,440.6 L500.6,438.8 L502.2,436.9 L503.9,435.1 L505.6,433.3 L507.3,431.6 L508.9,429.8 L510.6,428.1 L512.3,426.4 L514.0,424.8 L515.6,423.1 L517.3,421.5 L519.0,419.9 L520.6,418.4 L522.3,416.8 L524.0,415.3 L525.7,413.8 L527.3,412.3 L529.0,410.9 L530.7,409.4 L532.4,408.0 L534.0,406.6 L535.7,405.2 L537.4,403.8 L539.0,402.4 L540.7,401.1 L542.4,399.7 L544.1,398.4 L545.7,397.1 L547.4,395.8 L549.1,394.5 L550.8,393.2 L552.4,392.0 L554.1,390.7 L555.8,389.4 L557.5,388.2 L559.1,387.0 L560.8,385.7 L562.5,384.5 L564.1,383.3 L565.8,382.0 L567.5,380.8 L569.2,379.6 L570.8,378.4 L572.5,377.2 L574.2,375.9 L575.9,374.7 L577.5,373.5 L579.2,372.3 L580.9,371.1 L582.5,369.8 L584.2,368.6 L585.9,367.4 L587.6,366.2 L589.2,365.0 L590.9,363.8 L592.6,362.5 L594.3,361.3 L595.9,360.1 L597.6,358.9 L599.3,357.7 L600.9,356.5 L602.6,355.3 L604.3,354.1 L606.0,352.9 L607.6,351.7 L609.3,350.5 L611.0,349.3 L612.7,348.2 L614.3,347.0 L616.0,345.8 L617.7,344.6 L619.4,343.5 L621.0,342.3 L622.7,341.2 L624.4,340.0 L626.0,338.9 L627.7,337.7 L629.4,336.6 L631.1,335.5 L632.7,334.3 L634.4,333.2 L636.1,332.1 L637.8,331.0 L639.4,329.9 L641.1,328.8 L642.8,327.7 L644.4,326.7 L646.1,325.6 L647.8,324.5 L649.5,323.5 L651.1,322.4 L652.8,321.4 L654.5,320.3 L656.2,319.3 L657.8,318.3 L659.5,317.2 L661.2,316.2 L662.8,315.2 L664.5,314.2 L666.2,313.2 L667.9,312.2 L669.5,311.2 L671.2,310.2 L672.9,309.2 L674.6,308.2 L676.2,307.2 L677.9,306.2 L679.6,305.2 L681.3,304.2 L682.9,303.2 L684.6,302.2 L686.3,301.2 L687.9,300.2 L689.6,299.3 L691.3,298.3 L693.0,297.3 L694.6,296.3 L696.3,295.3 L698.0,294.3 L699.7,293.3 L701.3,292.3 L703.0,291.3 L704.7,290.3 L706.3,289.3 L708.0,288.3 L709.7,287.3 L711.4,286.3 L713.0,285.2 L714.7,284.2 L716.4,283.2 L718.1,282.2 L719.7,281.1 L721.4,280.1 L723.1,279.1 L724.8,278.0 L726.4,277.0 L728.1,276.0 L729.8,274.9 L731.4,273.9 L733.1,272.9 L734.8,271.9 L736.5,270.8 L738.1,269.8 L739.8,268.8 L741.5,267.7 L743.2,266.7 L744.8,265.7 L746.5,264.7 L748.2,263.7 L749.8,262.7 L751.5,261.6 L753.2,260.6 L754.9,259.6 L756.5,258.6 L758.2,257.7 L759.9,256.7 L761.6,255.7 L763.2,254.7 L764.9,253.7 L766.6,252.8 L768.2,251.8 L769.9,250.9 L771.6,249.9 L773.3,249.0 L774.9,248.0 L776.6,247.1 L778.3,246.2 L780.0,245.3 L781.6,244.4 L783.3,243.5 L785.0,242.6 L786.7,241.7 L788.4,240.9 L790.1,240.0 L791.8,239.1 L793.6,238.3 L795.3,237.4 L797.1,236.6 L798.8,235.8 L800.6,234.9 L802.4,234.1 L804.2,233.3 L806.1,232.5 L807.9,231.7 L809.8,230.9 L811.7,230.1 L813.6,229.3 L815.5,228.5 L817.5,227.7 L819.5,226.9 L821.5,226.1 L823.5,225.3 L825.6,224.6 L827.7,223.8 L829.8,223.0 L832.0,222.3 L834.2,221.5 L836.4,220.8 L838.7,220.0 L841.0,219.2 L843.3,218.5 L845.7,217.7 L848.1,217.0 L850.5,216.3 L853.0,215.5 L855.5,214.8 L858.1,214.0 L860.7,213.3 L863.4,212.6 L866.0,211.8 L868.7,211.1 L871.5,210.4 L874.2,209.7 L877.0,209.0 L879.9,208.3 L882.7,207.6 L885.5,206.9 L888.4,206.2 L891.3,205.5 L894.2,204.9 L897.1,204.2 L900.0,203.6 L902.9,202.9 L905.9,202.3 L908.8,201.7 L911.7,201.1 L914.6,200.5 L917.6,200.0 L920.5,199.4 L923.4,198.9 L926.3,198.3 L929.2,197.8 L932.0,197.3 L934.9,196.8 L937.7,196.4 L940.5,195.9 L943.3,195.5 L946.1,195.1 L948.8,194.7 L951.5,194.3 L954.2,194.0 L956.8,193.6 L959.4,193.3 L962.0,193.0 L964.5,192.8 L967.0,192.5 L969.5,192.3 L971.9,192.1 L974.3,191.9 L976.7,191.8 L979.1,191.6 L981.4,191.5 L983.8,191.4 L986.2,191.3 L988.6,191.2 L991.0,191.2 L993.5,191.1 L995.9,191.1 L998.5,191.1 L1001.0,191.0 L1003.6,191.0 L1006.3,191.0 L1009.0,191.0 L1011.8,191.1 L1014.7,191.1 L1017.7,191.1 L1020.8,191.1 L1023.9,191.2 L1027.2,191.2 L1030.6,191.2 L1034.0,191.3 L1037.6,191.3 L1041.4,191.4 L1045.2,191.4 L1049.2,191.4 L1053.4,191.4 L1057.7,191.5 L1062.2,191.5 L1066.8,191.5 L1071.6,191.5 L1076.6,191.5 L1081.7,191.5 L1087.1,191.4 L1092.6,191.4 L1098.4,191.3 L1104.3,191.3 L1110.5,191.2 L1116.9,191.1 L1123.5,191.0 L1130.3,190.9 L1137.3,190.8 L1144.6,190.7 L1152.0,190.6 L1159.7,190.4 L1167.6,190.3 L1175.7,190.2 L1184.0,190.0 L1192.6,189.9 L1201.3,189.7 L1210.3,189.6 L1219.6,189.4 L1229.0,189.3 L1238.7,189.2 L1248.6,189.0 L1258.7,188.9 L1269.1,188.8 L1279.7,188.7 L1290.5,188.6 L1301.6,188.5 L1312.8,188.4 L1324.4,188.3 L1336.1,188.2 L1348.1,188.2 L1360.4,188.1 L1372.9,188.1 L1385.6,188.1 L1398.5,188.1 L1411.7,188.1 L1425.2,188.2 L1438.9,188.3 L1452.8,188.3 L1467.0,188.4 L1481.4,188.6 L1496.1,188.7 L1511.1,188.9" fill="none" stroke="#56A06F" stroke-width="3.5" stroke-linejoin="round"/>
<polygon points="293.3,865.0 331.3,865.0 312.3,892.0" fill="#56A06F"/>
<polygon points="298.7,802.5 336.7,802.5 317.7,829.5" fill="#56A06F"/>
<polygon points="304.2,779.7 342.2,779.7 323.2,806.7" fill="#56A06F"/>
<polygon points="312.6,749.3 350.6,749.3 331.6,776.3" fill="#56A06F"/>
<polygon points="321.0,712.7 359.0,712.7 340.0,739.7" fill="#56A06F"/>
<polygon points="337.7,697.5 375.7,697.5 356.7,724.5" fill="#56A06F"/>
<polygon points="354.4,612.0 392.4,612.0 373.4,639.0" fill="#56A06F"/>
<polygon points="371.1,569.0 409.1,569.0 390.1,596.0" fill="#56A06F"/>
<polygon points="421.3,507.0 459.3,507.0 440.3,534.0" fill="#56A06F"/>
<polygon points="488.3,415.3 526.3,415.3 507.3,442.3" fill="#56A06F"/>
<polygon points="555.2,367.1 593.2,367.1 574.2,394.1" fill="#56A06F"/>
<polygon points="622.1,317.9 660.1,317.9 641.1,344.9" fill="#56A06F"/>
<polygon points="689.0,280.2 727.0,280.2 708.0,307.2" fill="#56A06F"/>
<polygon points="755.9,237.0 793.9,237.0 774.9,264.0" fill="#56A06F"/>
<polygon points="822.9,206.1 860.9,206.1 841.9,233.1" fill="#56A06F"/>
<polygon points="956.7,177.7 994.7,177.7 975.7,204.7" fill="#56A06F"/>
<polygon points="1023.6,185.8 1061.6,185.8 1042.6,212.8" fill="#56A06F"/>
<polygon points="1291.3,177.4 1329.3,177.4 1310.3,204.4" fill="#56A06F"/>
<polygon points="1492.1,179.9 1530.1,179.9 1511.1,206.9" fill="#56A06F"/>
<path d="M312.3,875.5 L312.7,872.3 L313.1,869.2 L313.5,866.3 L313.8,863.4 L314.2,860.7 L314.6,858.0 L314.9,855.5 L315.2,853.1 L315.6,850.8 L315.9,848.5 L316.2,846.4 L316.5,844.4 L316.8,842.4 L317.1,840.5 L317.4,838.7 L317.7,837.0 L318.0,835.4 L318.2,833.8 L318.5,832.4 L318.8,830.9 L319.0,829.6 L319.3,828.3 L319.5,827.0 L319.8,825.9 L320.0,824.7 L320.2,823.6 L320.5,822.6 L320.7,821.6 L320.9,820.7 L321.1,819.8 L321.3,818.9 L321.6,818.0 L321.8,817.2 L322.0,816.4 L322.2,815.7 L322.4,814.9 L322.6,814.2 L322.8,813.5 L323.0,812.8 L323.2,812.1 L323.5,811.4 L323.7,810.7 L323.9,810.0 L324.1,809.3 L324.3,808.7 L324.5,808.0 L324.7,807.4 L324.9,806.7 L325.1,806.1 L325.3,805.4 L325.5,804.8 L325.7,804.1 L326.0,803.5 L326.2,802.9 L326.4,802.3 L326.6,801.7 L326.8,801.0 L327.0,800.4 L327.2,799.8 L327.4,799.2 L327.6,798.7 L327.8,798.1 L328.0,797.5 L328.2,796.9 L328.5,796.3 L328.7,795.8 L328.9,795.2 L329.1,794.6 L329.3,794.1 L329.5,793.5 L329.7,793.0 L329.9,792.4 L330.1,791.9 L330.3,791.4 L330.5,790.8 L330.8,790.3 L331.0,789.8 L331.2,789.2 L331.4,788.7 L331.6,788.2 L331.8,787.7 L332.0,787.2 L332.2,786.7 L332.4,786.2 L332.6,785.7 L332.9,785.2 L333.1,784.7 L333.3,784.2 L333.5,783.7 L333.7,783.2 L333.9,782.7 L334.1,782.2 L334.4,781.7 L334.6,781.3 L334.8,780.8 L335.0,780.3 L335.3,779.8 L335.5,779.4 L335.7,778.9 L336.0,778.4 L336.2,777.9 L336.4,777.5 L336.7,777.0 L336.9,776.5 L337.2,776.1 L337.4,775.6 L337.7,775.1 L337.9,774.6 L338.2,774.2 L338.5,773.7 L338.7,773.2 L339.0,772.8 L339.3,772.3 L339.6,771.8 L339.8,771.3 L340.1,770.9 L340.4,770.4 L340.7,769.9 L341.0,769.4 L341.4,768.9 L341.7,768.5 L342.0,768.0 L342.3,767.5 L342.6,767.0 L343.0,766.5 L343.3,766.0 L343.7,765.5 L344.0,765.0 L344.4,764.5 L344.7,764.0 L345.1,763.5 L345.5,763.0 L345.8,762.5 L346.2,762.0 L346.6,761.4 L347.0,760.9 L347.3,760.4 L347.7,759.9 L348.1,759.3 L348.5,758.8 L348.9,758.2 L349.3,757.7 L349.7,757.1 L350.1,756.5 L350.5,756.0 L350.9,755.4 L351.3,754.8 L351.7,754.2 L352.1,753.6 L352.5,753.0 L352.9,752.4 L353.4,751.8 L353.8,751.2 L354.2,750.5 L354.6,749.9 L355.0,749.3 L355.4,748.6 L355.9,747.9 L356.3,747.3 L356.7,746.6 L357.1,745.9 L357.5,745.2 L357.9,744.5 L358.4,743.8 L358.8,743.1 L359.2,742.4 L359.6,741.6 L360.0,740.9 L360.5,740.2 L360.9,739.4 L361.3,738.6 L361.7,737.9 L362.1,737.1 L362.5,736.3 L363.0,735.5 L363.4,734.7 L363.8,733.9 L364.2,733.1 L364.6,732.3 L365.1,731.4 L365.5,730.6 L365.9,729.8 L366.3,728.9 L366.7,728.0 L367.1,727.2 L367.6,726.3 L368.0,725.4 L368.4,724.6 L368.8,723.7 L369.2,722.8 L369.7,721.9 L370.1,721.0 L370.5,720.0 L370.9,719.1 L371.3,718.2 L371.7,717.3 L372.2,716.3 L372.6,715.4 L373.0,714.4 L373.4,713.5 L373.8,712.5 L374.3,711.5 L374.7,710.6 L375.1,709.6 L375.5,708.6 L375.9,707.6 L376.4,706.6 L376.8,705.6 L377.2,704.6 L377.7,703.6 L378.1,702.5 L378.6,701.5 L379.0,700.4 L379.5,699.4 L380.0,698.3 L380.5,697.3 L381.0,696.2 L381.5,695.1 L382.0,694.0 L382.5,692.9 L383.0,691.8 L383.5,690.7 L384.1,689.6 L384.7,688.4 L385.2,687.3 L385.8,686.1 L386.4,684.9 L387.0,683.8 L387.7,682.6 L388.3,681.4 L389.0,680.2 L389.7,679.0 L390.4,677.7 L391.1,676.5 L391.8,675.3 L392.5,674.0 L393.3,672.7 L394.1,671.4 L394.9,670.1 L395.7,668.8 L396.6,667.5 L397.4,666.2 L398.3,664.8 L399.2,663.5 L400.2,662.1 L401.1,660.8 L402.1,659.4 L403.1,658.0 L404.1,656.6 L405.1,655.2 L406.1,653.8 L407.2,652.4 L408.3,651.0 L409.4,649.6 L410.5,648.2 L411.6,646.7 L412.8,645.3 L413.9,643.9 L415.1,642.4 L416.3,641.0 L417.5,639.6 L418.7,638.2 L420.0,636.7 L421.2,635.3 L422.5,633.9 L423.8,632.5 L425.1,631.1 L426.4,629.7 L427.7,628.3 L429.1,626.9 L430.4,625.5 L431.8,624.1 L433.2,622.7 L434.5,621.3 L435.9,620.0 L437.4,618.6 L438.8,617.3 L440.2,616.0 L441.7,614.6 L443.1,613.3 L444.6,612.0 L446.1,610.8 L447.6,609.5 L449.1,608.2 L450.6,607.0 L452.1,605.7 L453.6,604.5 L455.2,603.3 L456.7,602.1 L458.2,600.9 L459.8,599.7 L461.4,598.5 L462.9,597.4 L464.5,596.2 L466.1,595.0 L467.7,593.9 L469.3,592.7 L470.9,591.6 L472.5,590.5 L474.1,589.4 L475.8,588.2 L477.4,587.1 L479.0,586.0 L480.7,584.9 L482.3,583.8 L484.0,582.7 L485.6,581.6 L487.3,580.5 L488.9,579.4 L490.6,578.3 L492.2,577.2 L493.9,576.2 L495.6,575.1 L497.2,574.0 L498.9,572.9 L500.6,571.8 L502.2,570.7 L503.9,569.7 L505.6,568.6 L507.3,567.5 L508.9,566.4 L510.6,565.3 L512.3,564.2 L514.0,563.1 L515.6,562.0 L517.3,560.9 L519.0,559.8 L520.6,558.7 L522.3,557.6 L524.0,556.5 L525.7,555.4 L527.3,554.3 L529.0,553.1 L530.7,552.0 L532.4,550.9 L534.0,549.8 L535.7,548.6 L537.4,547.5 L539.0,546.3 L540.7,545.2 L542.4,544.1 L544.1,542.9 L545.7,541.7 L547.4,540.6 L549.1,539.4 L550.8,538.3 L552.4,537.1 L554.1,535.9 L555.8,534.7 L557.5,533.5 L559.1,532.4 L560.8,531.2 L562.5,530.0 L564.1,528.8 L565.8,527.6 L567.5,526.3 L569.2,525.1 L570.8,523.9 L572.5,522.7 L574.2,521.4 L575.9,520.2 L577.5,518.9 L579.2,517.7 L580.9,516.4 L582.5,515.2 L584.2,513.9 L585.9,512.6 L587.6,511.4 L589.2,510.1 L590.9,508.8 L592.6,507.5 L594.3,506.2 L595.9,504.9 L597.6,503.6 L599.3,502.2 L600.9,500.9 L602.6,499.6 L604.3,498.3 L606.0,496.9 L607.6,495.6 L609.3,494.2 L611.0,492.8 L612.7,491.5 L614.3,490.1 L616.0,488.7 L617.7,487.3 L619.4,486.0 L621.0,484.6 L622.7,483.2 L624.4,481.8 L626.0,480.3 L627.7,478.9 L629.4,477.5 L631.1,476.1 L632.7,474.6 L634.4,473.2 L636.1,471.7 L637.8,470.3 L639.4,468.8 L641.1,467.3 L642.8,465.9 L644.4,464.4 L646.1,462.9 L647.8,461.4 L649.5,459.9 L651.1,458.4 L652.8,456.9 L654.5,455.4 L656.2,453.9 L657.8,452.4 L659.5,450.8 L661.2,449.3 L662.8,447.8 L664.5,446.2 L666.2,444.7 L667.9,443.1 L669.5,441.6 L671.2,440.0 L672.9,438.5 L674.6,436.9 L676.2,435.3 L677.9,433.8 L679.6,432.2 L681.3,430.6 L682.9,429.0 L684.6,427.5 L686.3,425.9 L687.9,424.3 L689.6,422.7 L691.3,421.1 L693.0,419.6 L694.6,418.0 L696.3,416.4 L698.0,414.8 L699.7,413.2 L701.3,411.6 L703.0,410.0 L704.7,408.4 L706.3,406.8 L708.0,405.2 L709.7,403.6 L711.4,402.0 L713.0,400.5 L714.7,398.9 L716.4,397.3 L718.1,395.7 L719.7,394.1 L721.4,392.5 L723.1,391.0 L724.8,389.4 L726.4,387.8 L728.1,386.3 L729.8,384.7 L731.4,383.2 L733.1,381.7 L734.8,380.1 L736.5,378.6 L738.1,377.1 L739.8,375.6 L741.5,374.1 L743.2,372.6 L744.8,371.2 L746.5,369.7 L748.2,368.3 L749.8,366.8 L751.5,365.4 L753.2,364.0 L754.9,362.6 L756.5,361.3 L758.2,359.9 L759.9,358.6 L761.6,357.2 L763.2,355.9 L764.9,354.7 L766.6,353.4 L768.2,352.1 L769.9,350.9 L771.6,349.7 L773.3,348.5 L774.9,347.3 L776.6,346.2 L778.3,345.0 L780.0,343.9 L781.6,342.8 L783.3,341.8 L785.0,340.7 L786.7,339.7 L788.4,338.6 L790.1,337.6 L791.8,336.6 L793.6,335.6 L795.3,334.6 L797.1,333.7 L798.8,332.7 L800.6,331.8 L802.4,330.8 L804.2,329.9 L806.1,328.9 L807.9,328.0 L809.8,327.1 L811.7,326.2 L813.6,325.2 L815.5,324.3 L817.5,323.4 L819.5,322.5 L821.5,321.5 L823.5,320.6 L825.6,319.7 L827.7,318.7 L829.8,317.8 L832.0,316.8 L834.2,315.8 L836.4,314.9 L838.7,313.9 L841.0,312.9 L843.3,311.9 L845.7,310.8 L848.1,309.8 L850.5,308.7 L853.0,307.7 L855.5,306.6 L858.1,305.5 L860.7,304.4 L863.4,303.2 L866.0,302.1 L868.7,300.9 L871.5,299.7 L874.2,298.5 L877.0,297.3 L879.9,296.1 L882.7,294.9 L885.5,293.7 L888.4,292.5 L891.3,291.2 L894.2,290.0 L897.1,288.8 L900.0,287.5 L902.9,286.3 L905.9,285.0 L908.8,283.8 L911.7,282.5 L914.6,281.3 L917.6,280.0 L920.5,278.8 L923.4,277.5 L926.3,276.3 L929.2,275.0 L932.0,273.8 L934.9,272.6 L937.7,271.4 L940.5,270.2 L943.3,269.0 L946.1,267.8 L948.8,266.6 L951.5,265.5 L954.2,264.3 L956.8,263.2 L959.4,262.1 L962.0,261.0 L964.5,259.9 L967.0,258.8 L969.5,257.8 L971.9,256.8 L974.3,255.7 L976.7,254.7 L979.1,253.8 L981.4,252.8 L983.8,251.8 L986.2,250.9 L988.6,250.0 L991.0,249.1 L993.5,248.2 L995.9,247.3 L998.5,246.5 L1001.0,245.6 L1003.6,244.8 L1006.3,244.0 L1009.0,243.2 L1011.8,242.4 L1014.7,241.6 L1017.7,240.8 L1020.8,240.1 L1023.9,239.4 L1027.2,238.6 L1030.6,237.9 L1034.0,237.2 L1037.6,236.5 L1041.4,235.8 L1045.2,235.2 L1049.2,234.5 L1053.4,233.9 L1057.7,233.2 L1062.2,232.6 L1066.8,232.0 L1071.6,231.4 L1076.6,230.8 L1081.7,230.2 L1087.1,229.6 L1092.6,229.0 L1098.4,228.4 L1104.3,227.9 L1110.5,227.3 L1116.9,226.8 L1123.5,226.3 L1130.3,225.7 L1137.3,225.2 L1144.6,224.7 L1152.0,224.2 L1159.7,223.8 L1167.6,223.3 L1175.7,222.8 L1184.0,222.4 L1192.6,221.9 L1201.3,221.5 L1210.3,221.1 L1219.6,220.7 L1229.0,220.3 L1238.7,220.0 L1248.6,219.6 L1258.7,219.3 L1269.1,219.0 L1279.7,218.7 L1290.5,218.4 L1301.6,218.1 L1312.8,217.8 L1324.4,217.6 L1336.1,217.4 L1348.1,217.2 L1360.4,217.0 L1372.9,216.8 L1385.6,216.7 L1398.5,216.5 L1411.7,216.4 L1425.2,216.3 L1438.9,216.2 L1452.8,216.2 L1467.0,216.2 L1481.4,216.2 L1496.1,216.2 L1511.1,216.2" fill="none" stroke="#9B73B4" stroke-width="3.5" stroke-linejoin="round"/>
<polygon points="312.3,859.5 331.8,875.5 312.3,891.5 292.8,875.5" fill="#9B73B4"/>
<polygon points="317.7,816.0 337.2,832.0 317.7,848.0 298.2,832.0" fill="#9B73B4"/>
<polygon points="323.2,794.6 342.7,810.6 323.2,826.6 303.7,810.6" fill="#9B73B4"/>
<polygon points="331.6,771.3 351.1,787.3 331.6,803.3 312.1,787.3" fill="#9B73B4"/>
<polygon points="340.0,753.4 359.5,769.4 340.0,785.4 320.5,769.4" fill="#9B73B4"/>
<polygon points="356.7,732.8 376.2,748.8 356.7,764.8 337.2,748.8" fill="#9B73B4"/>
<polygon points="373.4,699.0 392.9,715.0 373.4,731.0 353.9,715.0" fill="#9B73B4"/>
<polygon points="390.1,656.0 409.6,672.0 390.1,688.0 370.6,672.0" fill="#9B73B4"/>
<polygon points="440.3,594.0 459.8,610.0 440.3,626.0 420.8,610.0" fill="#9B73B4"/>
<polygon points="507.3,552.0 526.8,568.0 507.3,584.0 487.8,568.0" fill="#9B73B4"/>
<polygon points="574.2,506.9 593.7,522.9 574.2,538.9 554.7,522.9" fill="#9B73B4"/>
<polygon points="641.1,453.0 660.6,469.0 641.1,485.0 621.6,469.0" fill="#9B73B4"/>
<polygon points="708.0,389.2 727.5,405.2 708.0,421.2 688.5,405.2" fill="#9B73B4"/>
<polygon points="774.9,325.6 794.4,341.6 774.9,357.6 755.4,341.6" fill="#9B73B4"/>
<polygon points="841.9,296.3 861.4,312.3 841.9,328.3 822.4,312.3" fill="#9B73B4"/>
<polygon points="975.7,239.2 995.2,255.2 975.7,271.2 956.2,255.2" fill="#9B73B4"/>
<polygon points="1042.6,210.3 1062.1,226.3 1042.6,242.3 1023.1,226.3" fill="#9B73B4"/>
<polygon points="1310.3,199.6 1329.8,215.6 1310.3,231.6 1290.8,215.6" fill="#9B73B4"/>
<polygon points="1511.1,200.2 1530.6,216.2 1511.1,232.2 1491.6,216.2" fill="#9B73B4"/>
<path d="M312.3,866.5 L312.7,864.5 L313.1,862.5 L313.5,860.6 L313.8,858.8 L314.2,857.0 L314.6,855.3 L314.9,853.7 L315.2,852.1 L315.6,850.5 L315.9,849.1 L316.2,847.6 L316.5,846.3 L316.8,844.9 L317.1,843.7 L317.4,842.4 L317.7,841.2 L318.0,840.1 L318.2,839.0 L318.5,837.9 L318.8,836.9 L319.0,835.9 L319.3,834.9 L319.5,834.0 L319.8,833.1 L320.0,832.3 L320.2,831.4 L320.5,830.6 L320.7,829.8 L320.9,829.1 L321.1,828.3 L321.3,827.6 L321.6,826.9 L321.8,826.2 L322.0,825.5 L322.2,824.9 L322.4,824.2 L322.6,823.6 L322.8,822.9 L323.0,822.3 L323.2,821.7 L323.5,821.0 L323.7,820.4 L323.9,819.8 L324.1,819.2 L324.3,818.6 L324.5,818.0 L324.7,817.4 L324.9,816.7 L325.1,816.1 L325.3,815.5 L325.5,814.9 L325.7,814.3 L326.0,813.7 L326.2,813.2 L326.4,812.6 L326.6,812.0 L326.8,811.4 L327.0,810.8 L327.2,810.2 L327.4,809.6 L327.6,809.1 L327.8,808.5 L328.0,807.9 L328.2,807.3 L328.5,806.8 L328.7,806.2 L328.9,805.6 L329.1,805.1 L329.3,804.5 L329.5,803.9 L329.7,803.4 L329.9,802.8 L330.1,802.3 L330.3,801.7 L330.5,801.2 L330.8,800.6 L331.0,800.1 L331.2,799.5 L331.4,799.0 L331.6,798.4 L331.8,797.9 L332.0,797.3 L332.2,796.8 L332.4,796.3 L332.6,795.7 L332.9,795.2 L333.1,794.6 L333.3,794.1 L333.5,793.6 L333.7,793.0 L333.9,792.5 L334.1,792.0 L334.4,791.4 L334.6,790.9 L334.8,790.4 L335.0,789.8 L335.3,789.3 L335.5,788.7 L335.7,788.2 L336.0,787.7 L336.2,787.1 L336.4,786.6 L336.7,786.0 L336.9,785.5 L337.2,784.9 L337.4,784.4 L337.7,783.8 L337.9,783.3 L338.2,782.7 L338.5,782.1 L338.7,781.6 L339.0,781.0 L339.3,780.4 L339.6,779.9 L339.8,779.3 L340.1,778.7 L340.4,778.1 L340.7,777.5 L341.0,776.9 L341.4,776.3 L341.7,775.7 L342.0,775.1 L342.3,774.5 L342.6,773.9 L343.0,773.3 L343.3,772.7 L343.7,772.0 L344.0,771.4 L344.4,770.8 L344.7,770.1 L345.1,769.5 L345.5,768.8 L345.8,768.2 L346.2,767.5 L346.6,766.9 L347.0,766.2 L347.3,765.5 L347.7,764.9 L348.1,764.2 L348.5,763.5 L348.9,762.9 L349.3,762.2 L349.7,761.5 L350.1,760.8 L350.5,760.1 L350.9,759.4 L351.3,758.7 L351.7,758.0 L352.1,757.3 L352.5,756.6 L352.9,755.9 L353.4,755.2 L353.8,754.5 L354.2,753.8 L354.6,753.0 L355.0,752.3 L355.4,751.6 L355.9,750.9 L356.3,750.1 L356.7,749.4 L357.1,748.7 L357.5,748.0 L357.9,747.2 L358.4,746.5 L358.8,745.7 L359.2,745.0 L359.6,744.3 L360.0,743.5 L360.5,742.8 L360.9,742.0 L361.3,741.3 L361.7,740.5 L362.1,739.8 L362.5,739.1 L363.0,738.3 L363.4,737.6 L363.8,736.8 L364.2,736.1 L364.6,735.3 L365.1,734.6 L365.5,733.9 L365.9,733.1 L366.3,732.4 L366.7,731.7 L367.1,730.9 L367.6,730.2 L368.0,729.5 L368.4,728.8 L368.8,728.1 L369.2,727.3 L369.7,726.6 L370.1,725.9 L370.5,725.2 L370.9,724.5 L371.3,723.8 L371.7,723.1 L372.2,722.4 L372.6,721.8 L373.0,721.1 L373.4,720.4 L373.8,719.8 L374.3,719.1 L374.7,718.4 L375.1,717.8 L375.5,717.1 L375.9,716.5 L376.4,715.9 L376.8,715.2 L377.2,714.6 L377.7,714.0 L378.1,713.3 L378.6,712.7 L379.0,712.1 L379.5,711.5 L380.0,710.8 L380.5,710.2 L381.0,709.6 L381.5,709.0 L382.0,708.4 L382.5,707.7 L383.0,707.1 L383.5,706.5 L384.1,705.9 L384.7,705.3 L385.2,704.7 L385.8,704.0 L386.4,703.4 L387.0,702.8 L387.7,702.2 L388.3,701.5 L389.0,700.9 L389.7,700.3 L390.4,699.6 L391.1,699.0 L391.8,698.3 L392.5,697.7 L393.3,697.0 L394.1,696.4 L394.9,695.7 L395.7,695.0 L396.6,694.4 L397.4,693.7 L398.3,693.0 L399.2,692.3 L400.2,691.6 L401.1,690.9 L402.1,690.2 L403.1,689.5 L404.1,688.7 L405.1,688.0 L406.1,687.2 L407.2,686.4 L408.3,685.6 L409.4,684.8 L410.5,684.0 L411.6,683.2 L412.8,682.3 L413.9,681.5 L415.1,680.6 L416.3,679.7 L417.5,678.8 L418.7,677.8 L420.0,676.9 L421.2,675.9 L422.5,674.9 L423.8,673.9 L425.1,672.8 L426.4,671.8 L427.7,670.7 L429.1,669.5 L430.4,668.4 L431.8,667.2 L433.2,666.1 L434.5,664.8 L435.9,663.6 L437.4,662.3 L438.8,661.0 L440.2,659.7 L441.7,658.3 L443.1,656.9 L444.6,655.5 L446.1,654.1 L447.6,652.6 L449.1,651.1 L450.6,649.5 L452.1,648.0 L453.6,646.4 L455.2,644.8 L456.7,643.2 L458.2,641.5 L459.8,639.8 L461.4,638.2 L462.9,636.5 L464.5,634.8 L466.1,633.0 L467.7,631.3 L469.3,629.5 L470.9,627.8 L472.5,626.0 L474.1,624.3 L475.8,622.5 L477.4,620.7 L479.0,618.9 L480.7,617.1 L482.3,615.4 L484.0,613.6 L485.6,611.8 L487.3,610.0 L488.9,608.3 L490.6,606.5 L492.2,604.7 L493.9,603.0 L495.6,601.3 L497.2,599.5 L498.9,597.8 L500.6,596.1 L502.2,594.5 L503.9,592.8 L505.6,591.2 L507.3,589.5 L508.9,587.9 L510.6,586.3 L512.3,584.8 L514.0,583.2 L515.6,581.7 L517.3,580.2 L519.0,578.7 L520.6,577.3 L522.3,575.8 L524.0,574.4 L525.7,572.9 L527.3,571.5 L529.0,570.1 L530.7,568.7 L532.4,567.4 L534.0,566.0 L535.7,564.7 L537.4,563.3 L539.0,562.0 L540.7,560.7 L542.4,559.4 L544.1,558.1 L545.7,556.8 L547.4,555.5 L549.1,554.2 L550.8,552.9 L552.4,551.7 L554.1,550.4 L555.8,549.1 L557.5,547.9 L559.1,546.6 L560.8,545.4 L562.5,544.1 L564.1,542.9 L565.8,541.6 L567.5,540.4 L569.2,539.1 L570.8,537.9 L572.5,536.6 L574.2,535.3 L575.9,534.1 L577.5,532.8 L579.2,531.6 L580.9,530.3 L582.5,529.0 L584.2,527.7 L585.9,526.5 L587.6,525.2 L589.2,523.9 L590.9,522.6 L592.6,521.4 L594.3,520.1 L595.9,518.8 L597.6,517.6 L599.3,516.3 L600.9,515.1 L602.6,513.8 L604.3,512.6 L606.0,511.3 L607.6,510.1 L609.3,508.8 L611.0,507.6 L612.7,506.4 L614.3,505.2 L616.0,504.0 L617.7,502.8 L619.4,501.6 L621.0,500.4 L622.7,499.3 L624.4,498.1 L626.0,497.0 L627.7,495.9 L629.4,494.7 L631.1,493.6 L632.7,492.6 L634.4,491.5 L636.1,490.4 L637.8,489.4 L639.4,488.3 L641.1,487.3 L642.8,486.3 L644.4,485.3 L646.1,484.4 L647.8,483.4 L649.5,482.5 L651.1,481.5 L652.8,480.6 L654.5,479.7 L656.2,478.8 L657.8,477.9 L659.5,477.0 L661.2,476.1 L662.8,475.2 L664.5,474.3 L666.2,473.4 L667.9,472.6 L669.5,471.7 L671.2,470.8 L672.9,469.9 L674.6,469.0 L676.2,468.1 L677.9,467.2 L679.6,466.3 L681.3,465.4 L682.9,464.5 L684.6,463.6 L686.3,462.6 L687.9,461.7 L689.6,460.7 L691.3,459.7 L693.0,458.7 L694.6,457.7 L696.3,456.7 L698.0,455.7 L699.7,454.6 L701.3,453.5 L703.0,452.4 L704.7,451.3 L706.3,450.2 L708.0,449.0 L709.7,447.8 L711.4,446.6 L713.0,445.4 L714.7,444.1 L716.4,442.8 L718.1,441.5 L719.7,440.2 L721.4,438.9 L723.1,437.5 L724.8,436.2 L726.4,434.8 L728.1,433.4 L729.8,432.1 L731.4,430.7 L733.1,429.3 L734.8,427.9 L736.5,426.5 L738.1,425.1 L739.8,423.6 L741.5,422.2 L743.2,420.8 L744.8,419.4 L746.5,418.0 L748.2,416.6 L749.8,415.3 L751.5,413.9 L753.2,412.5 L754.9,411.2 L756.5,409.8 L758.2,408.5 L759.9,407.2 L761.6,405.9 L763.2,404.6 L764.9,403.4 L766.6,402.1 L768.2,400.9 L769.9,399.7 L771.6,398.6 L773.3,397.4 L774.9,396.3 L776.6,395.2 L778.3,394.2 L780.0,393.2 L781.6,392.1 L783.3,391.2 L785.0,390.2 L786.7,389.3 L788.4,388.4 L790.1,387.5 L791.8,386.6 L793.6,385.7 L795.3,384.9 L797.1,384.1 L798.8,383.2 L800.6,382.4 L802.4,381.6 L804.2,380.8 L806.1,380.1 L807.9,379.3 L809.8,378.5 L811.7,377.8 L813.6,377.0 L815.5,376.2 L817.5,375.5 L819.5,374.7 L821.5,373.9 L823.5,373.2 L825.6,372.4 L827.7,371.6 L829.8,370.8 L832.0,370.0 L834.2,369.2 L836.4,368.4 L838.7,367.6 L841.0,366.8 L843.3,365.9 L845.7,365.0 L848.1,364.1 L850.5,363.2 L853.0,362.3 L855.5,361.4 L858.1,360.4 L860.7,359.4 L863.4,358.4 L866.0,357.4 L868.7,356.4 L871.5,355.3 L874.2,354.2 L877.0,353.2 L879.9,352.1 L882.7,351.0 L885.5,349.9 L888.4,348.8 L891.3,347.6 L894.2,346.5 L897.1,345.4 L900.0,344.2 L902.9,343.1 L905.9,342.0 L908.8,340.8 L911.7,339.7 L914.6,338.5 L917.6,337.4 L920.5,336.2 L923.4,335.1 L926.3,334.0 L929.2,332.9 L932.0,331.7 L934.9,330.6 L937.7,329.5 L940.5,328.5 L943.3,327.4 L946.1,326.3 L948.8,325.3 L951.5,324.2 L954.2,323.2 L956.8,322.2 L959.4,321.3 L962.0,320.3 L964.5,319.3 L967.0,318.4 L969.5,317.5 L971.9,316.7 L974.3,315.8 L976.7,315.0 L979.1,314.1 L981.4,313.4 L983.8,312.6 L986.2,311.8 L988.6,311.1 L991.0,310.4 L993.5,309.7 L995.9,309.0 L998.5,308.4 L1001.0,307.8 L1003.6,307.2 L1006.3,306.6 L1009.0,306.0 L1011.8,305.5 L1014.7,305.0 L1017.7,304.5 L1020.8,304.0 L1023.9,303.6 L1027.2,303.2 L1030.6,302.8 L1034.0,302.4 L1037.6,302.0 L1041.4,301.7 L1045.2,301.4 L1049.2,301.1 L1053.4,300.8 L1057.7,300.5 L1062.2,300.3 L1066.8,300.1 L1071.6,299.9 L1076.6,299.7 L1081.7,299.6 L1087.1,299.5 L1092.6,299.4 L1098.4,299.3 L1104.3,299.3 L1110.5,299.2 L1116.9,299.2 L1123.5,299.2 L1130.3,299.2 L1137.3,299.3 L1144.6,299.3 L1152.0,299.4 L1159.7,299.4 L1167.6,299.5 L1175.7,299.6 L1184.0,299.6 L1192.6,299.7 L1201.3,299.8 L1210.3,299.9 L1219.6,300.0 L1229.0,300.0 L1238.7,300.1 L1248.6,300.1 L1258.7,300.2 L1269.1,300.2 L1279.7,300.2 L1290.5,300.3 L1301.6,300.2 L1312.8,300.2 L1324.4,300.2 L1336.1,300.1 L1348.1,300.0 L1360.4,299.9 L1372.9,299.7 L1385.6,299.6 L1398.5,299.3 L1411.7,299.1 L1425.2,298.8 L1438.9,298.5 L1452.8,298.2 L1467.0,297.8 L1481.4,297.4 L1496.1,296.9 L1511.1,296.4" fill="none" stroke="#C58E36" stroke-width="3.5" stroke-linejoin="round"/>
<polygon points="289.0,866.5 324.0,851.0 324.0,882.0" fill="#C58E36"/>
<polygon points="294.4,839.0 329.4,823.5 329.4,854.5" fill="#C58E36"/>
<polygon points="299.9,821.0 334.9,805.5 334.9,836.5" fill="#C58E36"/>
<polygon points="308.3,798.0 343.3,782.5 343.3,813.5" fill="#C58E36"/>
<polygon points="316.6,777.5 351.6,762.0 351.6,793.0" fill="#C58E36"/>
<polygon points="333.4,750.0 368.4,734.5 368.4,765.5" fill="#C58E36"/>
<polygon points="350.1,719.0 385.1,703.5 385.1,734.5" fill="#C58E36"/>
<polygon points="366.8,696.5 401.8,681.0 401.8,712.0" fill="#C58E36"/>
<polygon points="417.0,665.3 452.0,649.8 452.0,680.8" fill="#C58E36"/>
<polygon points="483.9,583.9 518.9,568.4 518.9,599.4" fill="#C58E36"/>
<polygon points="550.8,536.3 585.8,520.8 585.8,551.8" fill="#C58E36"/>
<polygon points="617.8,483.0 652.8,467.5 652.8,498.5" fill="#C58E36"/>
<polygon points="684.7,455.6 719.7,440.1 719.7,471.1" fill="#C58E36"/>
<polygon points="751.6,388.6 786.6,373.1 786.6,404.1" fill="#C58E36"/>
<polygon points="818.5,367.9 853.5,352.4 853.5,383.4" fill="#C58E36"/>
<polygon points="952.4,313.7 987.4,298.2 987.4,329.2" fill="#C58E36"/>
<polygon points="1019.3,293.4 1054.3,277.9 1054.3,308.9" fill="#C58E36"/>
<polygon points="1287.0,303.5 1322.0,288.0 1322.0,319.0" fill="#C58E36"/>
<polygon points="1487.7,296.4 1522.7,280.9 1522.7,311.9" fill="#C58E36"/>
<rect x="1107.0" y="498.9" width="27" height="22.5" fill="#161616"/>
<text x="1158" y="525" class="t" letter-spacing="-0.9">40%(EGDE)</text>
<ellipse cx="1120.5" cy="573.4" rx="15.2" ry="12.6" fill="#E2434B"/>
<text x="1158" y="588" class="t" letter-spacing="-0.9">50%(EGDE)</text>
<polygon points="1120.0,621.6 1139.0,648.6 1101.0,648.6" fill="#4A64AC"/>
<text x="1158" y="651.3" class="t" letter-spacing="-0.9">60%(EGDE)</text>
<polygon points="1101.0,685.0 1139.0,685.0 1120.0,712.0" fill="#56A06F"/>
<text x="1158" y="712.8" class="t" letter-spacing="-0.9">40%(GTE)</text>
<polygon points="1120.5,745.0 1140.0,761.0 1120.5,777.0 1101.0,761.0" fill="#9B73B4"/>
<text x="1158" y="775.6" class="t" letter-spacing="-0.9">50%(GTE)</text>
<polygon points="1097.0,823.5 1132.0,808.0 1132.0,839.0" fill="#C58E36"/>
<text x="1158" y="838.2" class="t" letter-spacing="-0.9">60%(GTE)</text>
</svg>
</body></html>
